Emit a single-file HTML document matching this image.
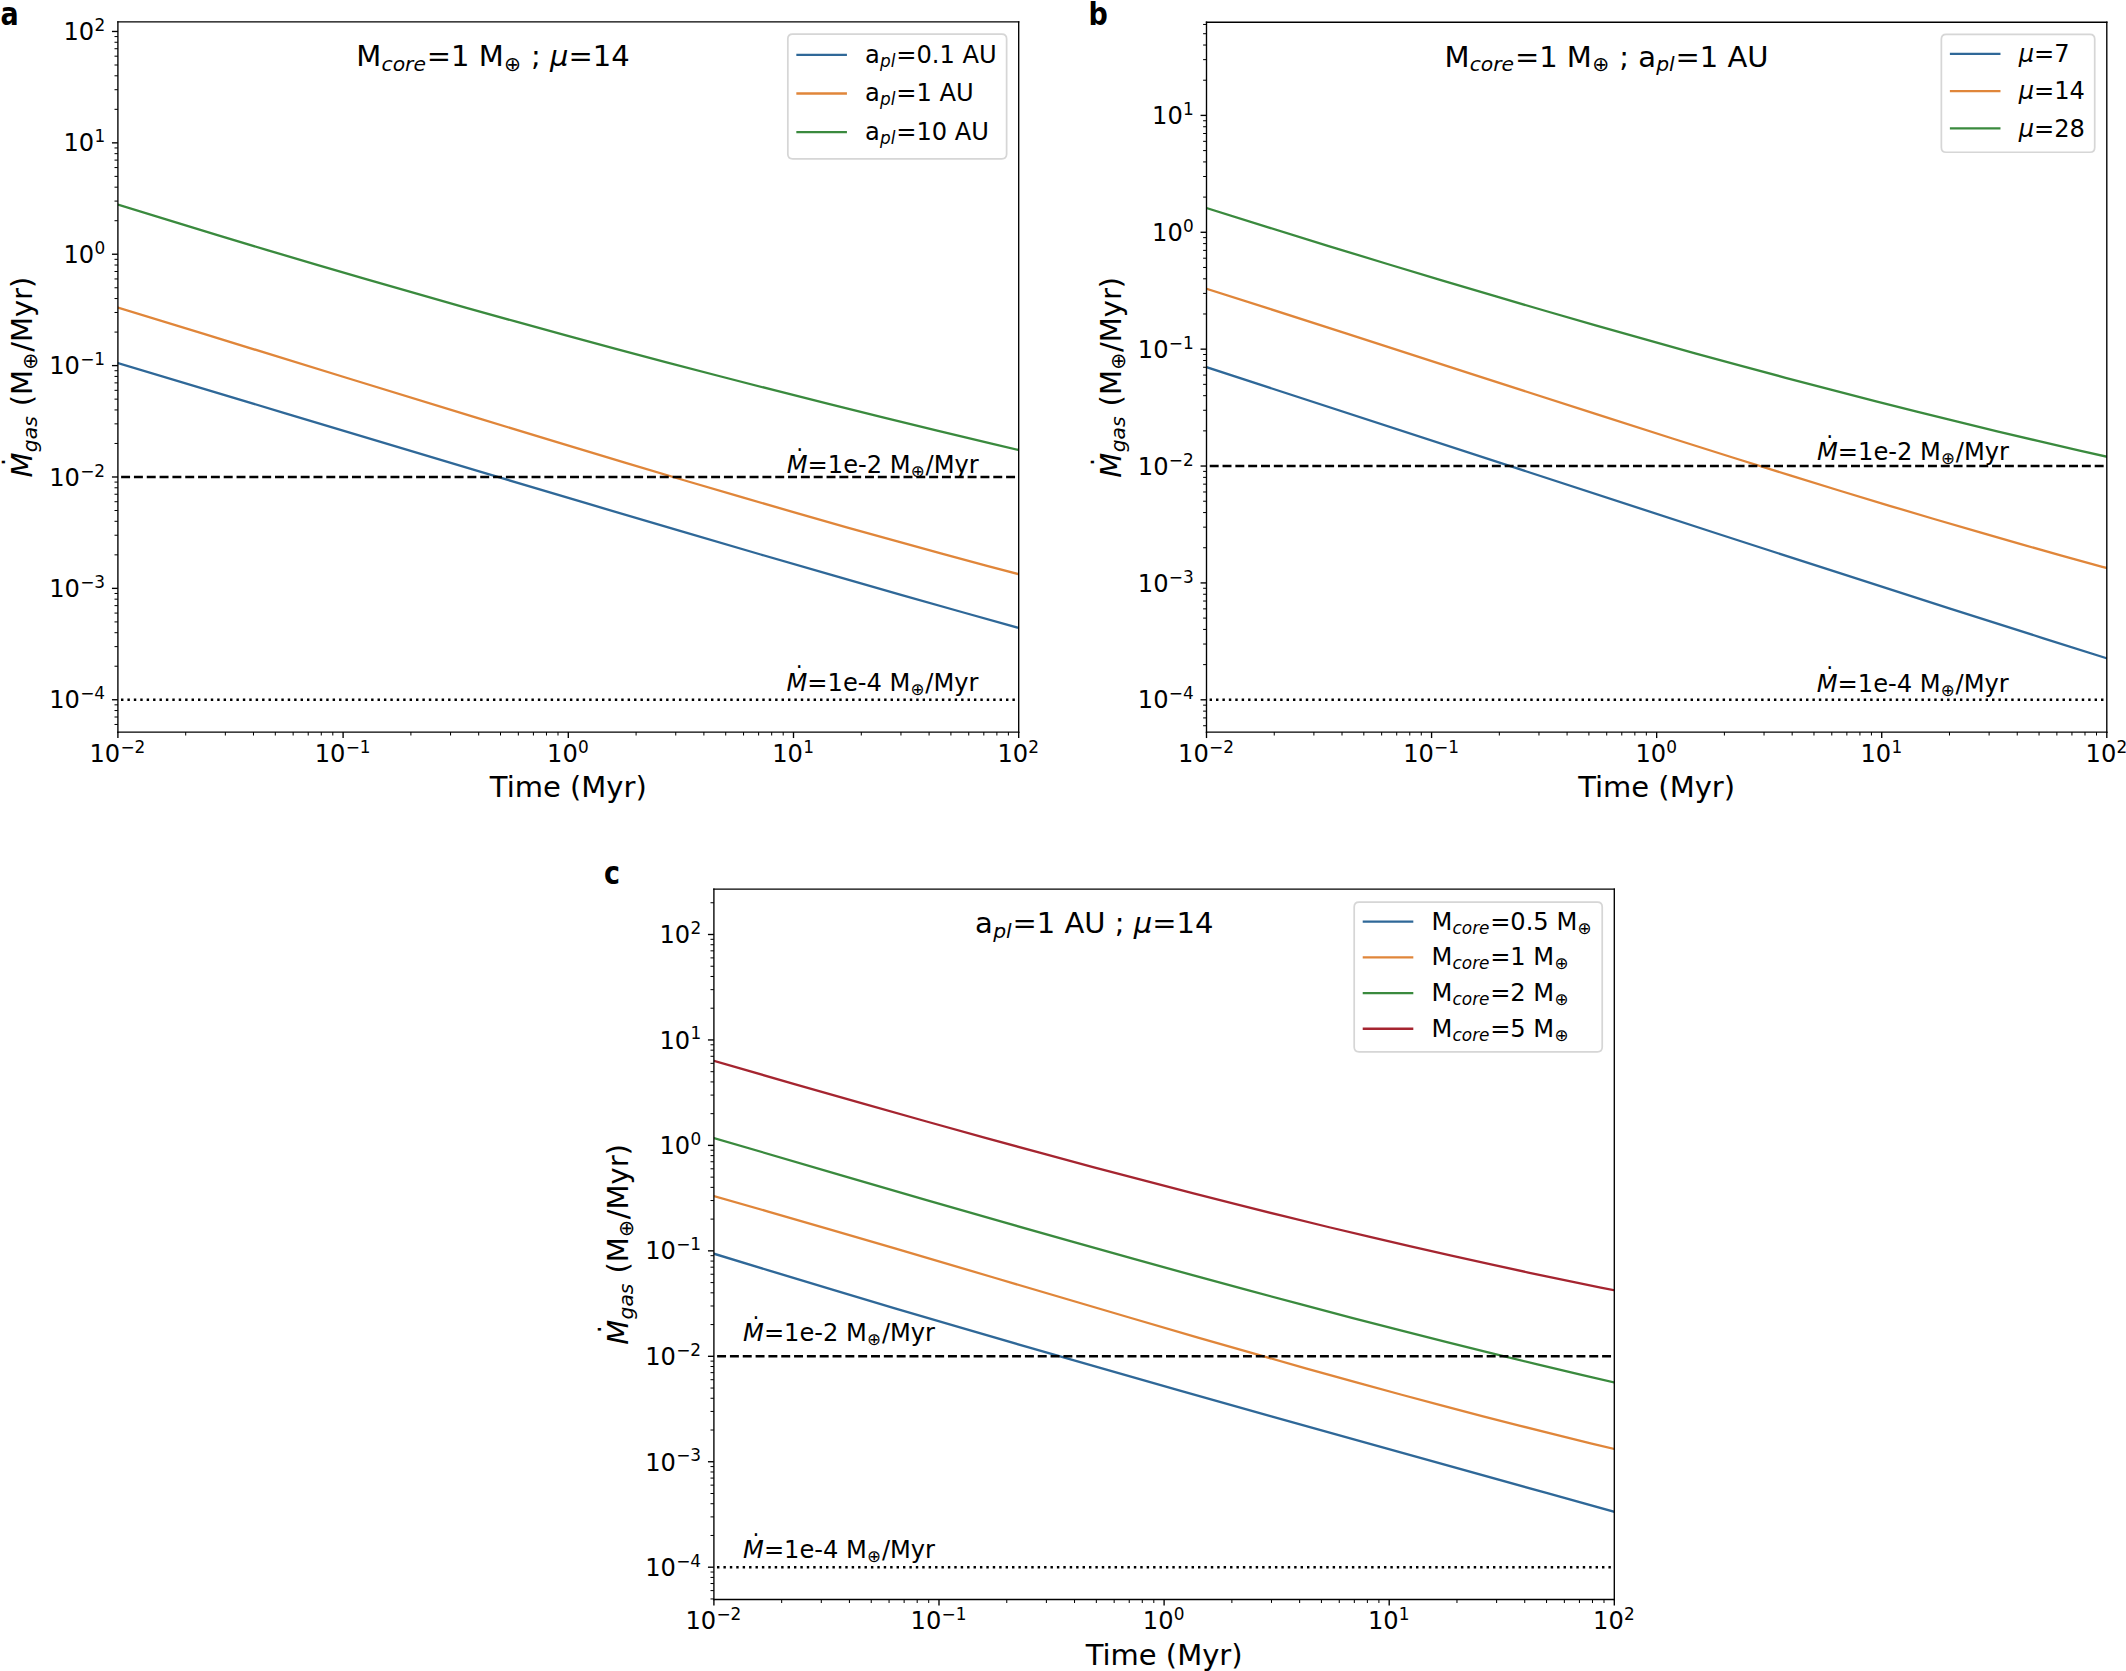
<!DOCTYPE html>
<html><head><meta charset="utf-8"><title>Figure</title>
<style>html,body{margin:0;padding:0;background:#fff;}body{width:2126px;height:1671px;overflow:hidden;}svg{display:block;}</style>
</head><body>
<svg width="2126" height="1671" viewBox="0 0 2126 1671" version="1.1">
 
 <defs>
  <style type="text/css">svg *{stroke-linejoin: round; stroke-linecap: butt}</style>
 </defs>
 <g id="figure_1">
  <g id="patch_1">
   <path d="M 0 1671 
L 2126 1671 
L 2126 0 
L 0 0 
z
" style="fill: #ffffff"/>
  </g>
  <g id="axes_1">
   <g id="patch_2">
    <path d="M 117.9 732.1 
L 1018.7 732.1 
L 1018.7 21.85 
L 117.9 21.85 
z
" style="fill: #ffffff"/>
   </g>
   <g id="matplotlib.axis_1">
    <g id="xtick_1">
     <g id="line2d_1">
      <defs>
       <path id="m1bfa19aeaf" d="M 0 0 
L 0 5.95 
" style="stroke: #000000; stroke-width: 1.36"/>
      </defs>
      <g>
       <use href="#m1bfa19aeaf" x="117.9" y="732.1" style="stroke: #000000; stroke-width: 1.36"/>
      </g>
     </g>
     <g id="text_1">
      <!-- $\mathdefault{10^{-2}}$ -->
      <g transform="translate(89.52375 762.350227)">
       <text>
        <tspan x="0" y="-0.34375" style="font-size: 24.15px; font-family: 'DejaVu Sans', sans-serif">1</tspan>
        <tspan x="15.34906" y="-0.34375" style="font-size: 24.15px; font-family: 'DejaVu Sans', sans-serif">0</tspan>
        <tspan x="30.927808" y="-9.53125" style="font-size: 16.905px; font-family: 'DejaVu Sans', sans-serif">−</tspan>
        <tspan x="45.077686" y="-9.53125" style="font-size: 16.905px; font-family: 'DejaVu Sans', sans-serif">2</tspan>
       </text>
      </g>
     </g>
    </g>
    <g id="xtick_2">
     <g id="line2d_2">
      <g>
       <use href="#m1bfa19aeaf" x="343.1" y="732.1" style="stroke: #000000; stroke-width: 1.36"/>
      </g>
     </g>
     <g id="text_2">
      <!-- $\mathdefault{10^{-1}}$ -->
      <g transform="translate(314.72375 762.350227)">
       <text>
        <tspan x="0" y="-0.5625" style="font-size: 24.15px; font-family: 'DejaVu Sans', sans-serif">1</tspan>
        <tspan x="15.34906" y="-0.5625" style="font-size: 24.15px; font-family: 'DejaVu Sans', sans-serif">0</tspan>
        <tspan x="30.927808" y="-9.75" style="font-size: 16.905px; font-family: 'DejaVu Sans', sans-serif">−</tspan>
        <tspan x="45.077686" y="-9.75" style="font-size: 16.905px; font-family: 'DejaVu Sans', sans-serif">1</tspan>
       </text>
      </g>
     </g>
    </g>
    <g id="xtick_3">
     <g id="line2d_3">
      <g>
       <use href="#m1bfa19aeaf" x="568.3" y="732.1" style="stroke: #000000; stroke-width: 1.36"/>
      </g>
     </g>
     <g id="text_3">
      <!-- $\mathdefault{10^{0}}$ -->
      <g transform="translate(547.048 762.350227)">
       <text>
        <tspan x="0" y="-0.34375" style="font-size: 24.15px; font-family: 'DejaVu Sans', sans-serif">1</tspan>
        <tspan x="15.34906" y="-0.34375" style="font-size: 24.15px; font-family: 'DejaVu Sans', sans-serif">0</tspan>
        <tspan x="30.927808" y="-9.53125" style="font-size: 16.905px; font-family: 'DejaVu Sans', sans-serif">0</tspan>
       </text>
      </g>
     </g>
    </g>
    <g id="xtick_4">
     <g id="line2d_4">
      <g>
       <use href="#m1bfa19aeaf" x="793.5" y="732.1" style="stroke: #000000; stroke-width: 1.36"/>
      </g>
     </g>
     <g id="text_4">
      <!-- $\mathdefault{10^{1}}$ -->
      <g transform="translate(772.248 762.350227)">
       <text>
        <tspan x="0" y="-0.5625" style="font-size: 24.15px; font-family: 'DejaVu Sans', sans-serif">1</tspan>
        <tspan x="15.34906" y="-0.5625" style="font-size: 24.15px; font-family: 'DejaVu Sans', sans-serif">0</tspan>
        <tspan x="30.927808" y="-9.75" style="font-size: 16.905px; font-family: 'DejaVu Sans', sans-serif">1</tspan>
       </text>
      </g>
     </g>
    </g>
    <g id="xtick_5">
     <g id="line2d_5">
      <g>
       <use href="#m1bfa19aeaf" x="1018.7" y="732.1" style="stroke: #000000; stroke-width: 1.36"/>
      </g>
     </g>
     <g id="text_5">
      <!-- $\mathdefault{10^{2}}$ -->
      <g transform="translate(997.448 762.350227)">
       <text>
        <tspan x="0" y="-0.34375" style="font-size: 24.15px; font-family: 'DejaVu Sans', sans-serif">1</tspan>
        <tspan x="15.34906" y="-0.34375" style="font-size: 24.15px; font-family: 'DejaVu Sans', sans-serif">0</tspan>
        <tspan x="30.927808" y="-9.53125" style="font-size: 16.905px; font-family: 'DejaVu Sans', sans-serif">2</tspan>
       </text>
      </g>
     </g>
    </g>
    <g id="xtick_6">
     <g id="line2d_6">
      <defs>
       <path id="m6f70f189b6" d="M 0 0 
L 0 3.4 
" style="stroke: #000000; stroke-width: 1.02"/>
      </defs>
      <g>
       <use href="#m6f70f189b6" x="185.691955" y="732.1" style="stroke: #000000; stroke-width: 1.02"/>
      </g>
     </g>
    </g>
    <g id="xtick_7">
     <g id="line2d_7">
      <g>
       <use href="#m6f70f189b6" x="225.347707" y="732.1" style="stroke: #000000; stroke-width: 1.02"/>
      </g>
     </g>
    </g>
    <g id="xtick_8">
     <g id="line2d_8">
      <g>
       <use href="#m6f70f189b6" x="253.48391" y="732.1" style="stroke: #000000; stroke-width: 1.02"/>
      </g>
     </g>
    </g>
    <g id="xtick_9">
     <g id="line2d_9">
      <g>
       <use href="#m6f70f189b6" x="275.308045" y="732.1" style="stroke: #000000; stroke-width: 1.02"/>
      </g>
     </g>
    </g>
    <g id="xtick_10">
     <g id="line2d_10">
      <g>
       <use href="#m6f70f189b6" x="293.139662" y="732.1" style="stroke: #000000; stroke-width: 1.02"/>
      </g>
     </g>
    </g>
    <g id="xtick_11">
     <g id="line2d_11">
      <g>
       <use href="#m6f70f189b6" x="308.216079" y="732.1" style="stroke: #000000; stroke-width: 1.02"/>
      </g>
     </g>
    </g>
    <g id="xtick_12">
     <g id="line2d_12">
      <g>
       <use href="#m6f70f189b6" x="321.275865" y="732.1" style="stroke: #000000; stroke-width: 1.02"/>
      </g>
     </g>
    </g>
    <g id="xtick_13">
     <g id="line2d_13">
      <g>
       <use href="#m6f70f189b6" x="332.795413" y="732.1" style="stroke: #000000; stroke-width: 1.02"/>
      </g>
     </g>
    </g>
    <g id="xtick_14">
     <g id="line2d_14">
      <g>
       <use href="#m6f70f189b6" x="410.891955" y="732.1" style="stroke: #000000; stroke-width: 1.02"/>
      </g>
     </g>
    </g>
    <g id="xtick_15">
     <g id="line2d_15">
      <g>
       <use href="#m6f70f189b6" x="450.547707" y="732.1" style="stroke: #000000; stroke-width: 1.02"/>
      </g>
     </g>
    </g>
    <g id="xtick_16">
     <g id="line2d_16">
      <g>
       <use href="#m6f70f189b6" x="478.68391" y="732.1" style="stroke: #000000; stroke-width: 1.02"/>
      </g>
     </g>
    </g>
    <g id="xtick_17">
     <g id="line2d_17">
      <g>
       <use href="#m6f70f189b6" x="500.508045" y="732.1" style="stroke: #000000; stroke-width: 1.02"/>
      </g>
     </g>
    </g>
    <g id="xtick_18">
     <g id="line2d_18">
      <g>
       <use href="#m6f70f189b6" x="518.339662" y="732.1" style="stroke: #000000; stroke-width: 1.02"/>
      </g>
     </g>
    </g>
    <g id="xtick_19">
     <g id="line2d_19">
      <g>
       <use href="#m6f70f189b6" x="533.416079" y="732.1" style="stroke: #000000; stroke-width: 1.02"/>
      </g>
     </g>
    </g>
    <g id="xtick_20">
     <g id="line2d_20">
      <g>
       <use href="#m6f70f189b6" x="546.475865" y="732.1" style="stroke: #000000; stroke-width: 1.02"/>
      </g>
     </g>
    </g>
    <g id="xtick_21">
     <g id="line2d_21">
      <g>
       <use href="#m6f70f189b6" x="557.995413" y="732.1" style="stroke: #000000; stroke-width: 1.02"/>
      </g>
     </g>
    </g>
    <g id="xtick_22">
     <g id="line2d_22">
      <g>
       <use href="#m6f70f189b6" x="636.091955" y="732.1" style="stroke: #000000; stroke-width: 1.02"/>
      </g>
     </g>
    </g>
    <g id="xtick_23">
     <g id="line2d_23">
      <g>
       <use href="#m6f70f189b6" x="675.747707" y="732.1" style="stroke: #000000; stroke-width: 1.02"/>
      </g>
     </g>
    </g>
    <g id="xtick_24">
     <g id="line2d_24">
      <g>
       <use href="#m6f70f189b6" x="703.88391" y="732.1" style="stroke: #000000; stroke-width: 1.02"/>
      </g>
     </g>
    </g>
    <g id="xtick_25">
     <g id="line2d_25">
      <g>
       <use href="#m6f70f189b6" x="725.708045" y="732.1" style="stroke: #000000; stroke-width: 1.02"/>
      </g>
     </g>
    </g>
    <g id="xtick_26">
     <g id="line2d_26">
      <g>
       <use href="#m6f70f189b6" x="743.539662" y="732.1" style="stroke: #000000; stroke-width: 1.02"/>
      </g>
     </g>
    </g>
    <g id="xtick_27">
     <g id="line2d_27">
      <g>
       <use href="#m6f70f189b6" x="758.616079" y="732.1" style="stroke: #000000; stroke-width: 1.02"/>
      </g>
     </g>
    </g>
    <g id="xtick_28">
     <g id="line2d_28">
      <g>
       <use href="#m6f70f189b6" x="771.675865" y="732.1" style="stroke: #000000; stroke-width: 1.02"/>
      </g>
     </g>
    </g>
    <g id="xtick_29">
     <g id="line2d_29">
      <g>
       <use href="#m6f70f189b6" x="783.195413" y="732.1" style="stroke: #000000; stroke-width: 1.02"/>
      </g>
     </g>
    </g>
    <g id="xtick_30">
     <g id="line2d_30">
      <g>
       <use href="#m6f70f189b6" x="861.291955" y="732.1" style="stroke: #000000; stroke-width: 1.02"/>
      </g>
     </g>
    </g>
    <g id="xtick_31">
     <g id="line2d_31">
      <g>
       <use href="#m6f70f189b6" x="900.947707" y="732.1" style="stroke: #000000; stroke-width: 1.02"/>
      </g>
     </g>
    </g>
    <g id="xtick_32">
     <g id="line2d_32">
      <g>
       <use href="#m6f70f189b6" x="929.08391" y="732.1" style="stroke: #000000; stroke-width: 1.02"/>
      </g>
     </g>
    </g>
    <g id="xtick_33">
     <g id="line2d_33">
      <g>
       <use href="#m6f70f189b6" x="950.908045" y="732.1" style="stroke: #000000; stroke-width: 1.02"/>
      </g>
     </g>
    </g>
    <g id="xtick_34">
     <g id="line2d_34">
      <g>
       <use href="#m6f70f189b6" x="968.739662" y="732.1" style="stroke: #000000; stroke-width: 1.02"/>
      </g>
     </g>
    </g>
    <g id="xtick_35">
     <g id="line2d_35">
      <g>
       <use href="#m6f70f189b6" x="983.816079" y="732.1" style="stroke: #000000; stroke-width: 1.02"/>
      </g>
     </g>
    </g>
    <g id="xtick_36">
     <g id="line2d_36">
      <g>
       <use href="#m6f70f189b6" x="996.875865" y="732.1" style="stroke: #000000; stroke-width: 1.02"/>
      </g>
     </g>
    </g>
    <g id="xtick_37">
     <g id="line2d_37">
      <g>
       <use href="#m6f70f189b6" x="1008.395413" y="732.1" style="stroke: #000000; stroke-width: 1.02"/>
      </g>
     </g>
    </g>
    <g id="text_6">
     <text style="font-size: 29px; font-family: 'DejaVu Sans', sans-serif; text-anchor: middle" x="568.3" y="797.308141" transform="rotate(-0 568.3 797.308141)">Time (Myr)</text>
    </g>
   </g>
   <g id="matplotlib.axis_2">
    <g id="ytick_1">
     <g id="line2d_38">
      <defs>
       <path id="me360a10468" d="M 0 0 
L -5.95 0 
" style="stroke: #000000; stroke-width: 1.36"/>
      </defs>
      <g>
       <use href="#me360a10468" x="117.9" y="699.75" style="stroke: #000000; stroke-width: 1.36"/>
      </g>
     </g>
     <g id="text_7">
      <!-- $\mathdefault{10^{-4}}$ -->
      <g transform="translate(49.2475 708.925113)">
       <text>
        <tspan x="0" y="-0.5625" style="font-size: 24.15px; font-family: 'DejaVu Sans', sans-serif">1</tspan>
        <tspan x="15.34906" y="-0.5625" style="font-size: 24.15px; font-family: 'DejaVu Sans', sans-serif">0</tspan>
        <tspan x="30.927808" y="-9.75" style="font-size: 16.905px; font-family: 'DejaVu Sans', sans-serif">−</tspan>
        <tspan x="45.077686" y="-9.75" style="font-size: 16.905px; font-family: 'DejaVu Sans', sans-serif">4</tspan>
       </text>
      </g>
     </g>
    </g>
    <g id="ytick_2">
     <g id="line2d_39">
      <g>
       <use href="#me360a10468" x="117.9" y="588.37" style="stroke: #000000; stroke-width: 1.36"/>
      </g>
     </g>
     <g id="text_8">
      <!-- $\mathdefault{10^{-3}}$ -->
      <g transform="translate(49.2475 597.545113)">
       <text>
        <tspan x="0" y="-0.34375" style="font-size: 24.15px; font-family: 'DejaVu Sans', sans-serif">1</tspan>
        <tspan x="15.34906" y="-0.34375" style="font-size: 24.15px; font-family: 'DejaVu Sans', sans-serif">0</tspan>
        <tspan x="30.927808" y="-9.53125" style="font-size: 16.905px; font-family: 'DejaVu Sans', sans-serif">−</tspan>
        <tspan x="45.077686" y="-9.53125" style="font-size: 16.905px; font-family: 'DejaVu Sans', sans-serif">3</tspan>
       </text>
      </g>
     </g>
    </g>
    <g id="ytick_3">
     <g id="line2d_40">
      <g>
       <use href="#me360a10468" x="117.9" y="476.99" style="stroke: #000000; stroke-width: 1.36"/>
      </g>
     </g>
     <g id="text_9">
      <!-- $\mathdefault{10^{-2}}$ -->
      <g transform="translate(49.2475 486.165113)">
       <text>
        <tspan x="0" y="-0.34375" style="font-size: 24.15px; font-family: 'DejaVu Sans', sans-serif">1</tspan>
        <tspan x="15.34906" y="-0.34375" style="font-size: 24.15px; font-family: 'DejaVu Sans', sans-serif">0</tspan>
        <tspan x="30.927808" y="-9.53125" style="font-size: 16.905px; font-family: 'DejaVu Sans', sans-serif">−</tspan>
        <tspan x="45.077686" y="-9.53125" style="font-size: 16.905px; font-family: 'DejaVu Sans', sans-serif">2</tspan>
       </text>
      </g>
     </g>
    </g>
    <g id="ytick_4">
     <g id="line2d_41">
      <g>
       <use href="#me360a10468" x="117.9" y="365.61" style="stroke: #000000; stroke-width: 1.36"/>
      </g>
     </g>
     <g id="text_10">
      <!-- $\mathdefault{10^{-1}}$ -->
      <g transform="translate(49.2475 374.785113)">
       <text>
        <tspan x="0" y="-0.5625" style="font-size: 24.15px; font-family: 'DejaVu Sans', sans-serif">1</tspan>
        <tspan x="15.34906" y="-0.5625" style="font-size: 24.15px; font-family: 'DejaVu Sans', sans-serif">0</tspan>
        <tspan x="30.927808" y="-9.75" style="font-size: 16.905px; font-family: 'DejaVu Sans', sans-serif">−</tspan>
        <tspan x="45.077686" y="-9.75" style="font-size: 16.905px; font-family: 'DejaVu Sans', sans-serif">1</tspan>
       </text>
      </g>
     </g>
    </g>
    <g id="ytick_5">
     <g id="line2d_42">
      <g>
       <use href="#me360a10468" x="117.9" y="254.23" style="stroke: #000000; stroke-width: 1.36"/>
      </g>
     </g>
     <g id="text_11">
      <!-- $\mathdefault{10^{0}}$ -->
      <g transform="translate(63.496 263.405113)">
       <text>
        <tspan x="0" y="-0.34375" style="font-size: 24.15px; font-family: 'DejaVu Sans', sans-serif">1</tspan>
        <tspan x="15.34906" y="-0.34375" style="font-size: 24.15px; font-family: 'DejaVu Sans', sans-serif">0</tspan>
        <tspan x="30.927808" y="-9.53125" style="font-size: 16.905px; font-family: 'DejaVu Sans', sans-serif">0</tspan>
       </text>
      </g>
     </g>
    </g>
    <g id="ytick_6">
     <g id="line2d_43">
      <g>
       <use href="#me360a10468" x="117.9" y="142.85" style="stroke: #000000; stroke-width: 1.36"/>
      </g>
     </g>
     <g id="text_12">
      <!-- $\mathdefault{10^{1}}$ -->
      <g transform="translate(63.496 152.025113)">
       <text>
        <tspan x="0" y="-0.5625" style="font-size: 24.15px; font-family: 'DejaVu Sans', sans-serif">1</tspan>
        <tspan x="15.34906" y="-0.5625" style="font-size: 24.15px; font-family: 'DejaVu Sans', sans-serif">0</tspan>
        <tspan x="30.927808" y="-9.75" style="font-size: 16.905px; font-family: 'DejaVu Sans', sans-serif">1</tspan>
       </text>
      </g>
     </g>
    </g>
    <g id="ytick_7">
     <g id="line2d_44">
      <g>
       <use href="#me360a10468" x="117.9" y="31.47" style="stroke: #000000; stroke-width: 1.36"/>
      </g>
     </g>
     <g id="text_13">
      <!-- $\mathdefault{10^{2}}$ -->
      <g transform="translate(63.496 40.645113)">
       <text>
        <tspan x="0" y="-0.34375" style="font-size: 24.15px; font-family: 'DejaVu Sans', sans-serif">1</tspan>
        <tspan x="15.34906" y="-0.34375" style="font-size: 24.15px; font-family: 'DejaVu Sans', sans-serif">0</tspan>
        <tspan x="30.927808" y="-9.53125" style="font-size: 16.905px; font-family: 'DejaVu Sans', sans-serif">2</tspan>
       </text>
      </g>
     </g>
    </g>
    <g id="ytick_8">
     <g id="line2d_45">
      <defs>
       <path id="md346ec357f" d="M 0 0 
L -3.4 0 
" style="stroke: #000000; stroke-width: 1.02"/>
      </defs>
      <g>
       <use href="#md346ec357f" x="117.9" y="724.459514" style="stroke: #000000; stroke-width: 1.02"/>
      </g>
     </g>
    </g>
    <g id="ytick_9">
     <g id="line2d_46">
      <g>
       <use href="#md346ec357f" x="117.9" y="717.00298" style="stroke: #000000; stroke-width: 1.02"/>
      </g>
     </g>
    </g>
    <g id="ytick_10">
     <g id="line2d_47">
      <g>
       <use href="#md346ec357f" x="117.9" y="710.543837" style="stroke: #000000; stroke-width: 1.02"/>
      </g>
     </g>
    </g>
    <g id="ytick_11">
     <g id="line2d_48">
      <g>
       <use href="#md346ec357f" x="117.9" y="704.846469" style="stroke: #000000; stroke-width: 1.02"/>
      </g>
     </g>
    </g>
    <g id="ytick_12">
     <g id="line2d_49">
      <g>
       <use href="#md346ec357f" x="117.9" y="666.221279" style="stroke: #000000; stroke-width: 1.02"/>
      </g>
     </g>
    </g>
    <g id="ytick_13">
     <g id="line2d_50">
      <g>
       <use href="#md346ec357f" x="117.9" y="646.608235" style="stroke: #000000; stroke-width: 1.02"/>
      </g>
     </g>
    </g>
    <g id="ytick_14">
     <g id="line2d_51">
      <g>
       <use href="#md346ec357f" x="117.9" y="632.692558" style="stroke: #000000; stroke-width: 1.02"/>
      </g>
     </g>
    </g>
    <g id="ytick_15">
     <g id="line2d_52">
      <g>
       <use href="#md346ec357f" x="117.9" y="621.898721" style="stroke: #000000; stroke-width: 1.02"/>
      </g>
     </g>
    </g>
    <g id="ytick_16">
     <g id="line2d_53">
      <g>
       <use href="#md346ec357f" x="117.9" y="613.079514" style="stroke: #000000; stroke-width: 1.02"/>
      </g>
     </g>
    </g>
    <g id="ytick_17">
     <g id="line2d_54">
      <g>
       <use href="#md346ec357f" x="117.9" y="605.62298" style="stroke: #000000; stroke-width: 1.02"/>
      </g>
     </g>
    </g>
    <g id="ytick_18">
     <g id="line2d_55">
      <g>
       <use href="#md346ec357f" x="117.9" y="599.163837" style="stroke: #000000; stroke-width: 1.02"/>
      </g>
     </g>
    </g>
    <g id="ytick_19">
     <g id="line2d_56">
      <g>
       <use href="#md346ec357f" x="117.9" y="593.466469" style="stroke: #000000; stroke-width: 1.02"/>
      </g>
     </g>
    </g>
    <g id="ytick_20">
     <g id="line2d_57">
      <g>
       <use href="#md346ec357f" x="117.9" y="554.841279" style="stroke: #000000; stroke-width: 1.02"/>
      </g>
     </g>
    </g>
    <g id="ytick_21">
     <g id="line2d_58">
      <g>
       <use href="#md346ec357f" x="117.9" y="535.228235" style="stroke: #000000; stroke-width: 1.02"/>
      </g>
     </g>
    </g>
    <g id="ytick_22">
     <g id="line2d_59">
      <g>
       <use href="#md346ec357f" x="117.9" y="521.312558" style="stroke: #000000; stroke-width: 1.02"/>
      </g>
     </g>
    </g>
    <g id="ytick_23">
     <g id="line2d_60">
      <g>
       <use href="#md346ec357f" x="117.9" y="510.518721" style="stroke: #000000; stroke-width: 1.02"/>
      </g>
     </g>
    </g>
    <g id="ytick_24">
     <g id="line2d_61">
      <g>
       <use href="#md346ec357f" x="117.9" y="501.699514" style="stroke: #000000; stroke-width: 1.02"/>
      </g>
     </g>
    </g>
    <g id="ytick_25">
     <g id="line2d_62">
      <g>
       <use href="#md346ec357f" x="117.9" y="494.24298" style="stroke: #000000; stroke-width: 1.02"/>
      </g>
     </g>
    </g>
    <g id="ytick_26">
     <g id="line2d_63">
      <g>
       <use href="#md346ec357f" x="117.9" y="487.783837" style="stroke: #000000; stroke-width: 1.02"/>
      </g>
     </g>
    </g>
    <g id="ytick_27">
     <g id="line2d_64">
      <g>
       <use href="#md346ec357f" x="117.9" y="482.086469" style="stroke: #000000; stroke-width: 1.02"/>
      </g>
     </g>
    </g>
    <g id="ytick_28">
     <g id="line2d_65">
      <g>
       <use href="#md346ec357f" x="117.9" y="443.461279" style="stroke: #000000; stroke-width: 1.02"/>
      </g>
     </g>
    </g>
    <g id="ytick_29">
     <g id="line2d_66">
      <g>
       <use href="#md346ec357f" x="117.9" y="423.848235" style="stroke: #000000; stroke-width: 1.02"/>
      </g>
     </g>
    </g>
    <g id="ytick_30">
     <g id="line2d_67">
      <g>
       <use href="#md346ec357f" x="117.9" y="409.932558" style="stroke: #000000; stroke-width: 1.02"/>
      </g>
     </g>
    </g>
    <g id="ytick_31">
     <g id="line2d_68">
      <g>
       <use href="#md346ec357f" x="117.9" y="399.138721" style="stroke: #000000; stroke-width: 1.02"/>
      </g>
     </g>
    </g>
    <g id="ytick_32">
     <g id="line2d_69">
      <g>
       <use href="#md346ec357f" x="117.9" y="390.319514" style="stroke: #000000; stroke-width: 1.02"/>
      </g>
     </g>
    </g>
    <g id="ytick_33">
     <g id="line2d_70">
      <g>
       <use href="#md346ec357f" x="117.9" y="382.86298" style="stroke: #000000; stroke-width: 1.02"/>
      </g>
     </g>
    </g>
    <g id="ytick_34">
     <g id="line2d_71">
      <g>
       <use href="#md346ec357f" x="117.9" y="376.403837" style="stroke: #000000; stroke-width: 1.02"/>
      </g>
     </g>
    </g>
    <g id="ytick_35">
     <g id="line2d_72">
      <g>
       <use href="#md346ec357f" x="117.9" y="370.706469" style="stroke: #000000; stroke-width: 1.02"/>
      </g>
     </g>
    </g>
    <g id="ytick_36">
     <g id="line2d_73">
      <g>
       <use href="#md346ec357f" x="117.9" y="332.081279" style="stroke: #000000; stroke-width: 1.02"/>
      </g>
     </g>
    </g>
    <g id="ytick_37">
     <g id="line2d_74">
      <g>
       <use href="#md346ec357f" x="117.9" y="312.468235" style="stroke: #000000; stroke-width: 1.02"/>
      </g>
     </g>
    </g>
    <g id="ytick_38">
     <g id="line2d_75">
      <g>
       <use href="#md346ec357f" x="117.9" y="298.552558" style="stroke: #000000; stroke-width: 1.02"/>
      </g>
     </g>
    </g>
    <g id="ytick_39">
     <g id="line2d_76">
      <g>
       <use href="#md346ec357f" x="117.9" y="287.758721" style="stroke: #000000; stroke-width: 1.02"/>
      </g>
     </g>
    </g>
    <g id="ytick_40">
     <g id="line2d_77">
      <g>
       <use href="#md346ec357f" x="117.9" y="278.939514" style="stroke: #000000; stroke-width: 1.02"/>
      </g>
     </g>
    </g>
    <g id="ytick_41">
     <g id="line2d_78">
      <g>
       <use href="#md346ec357f" x="117.9" y="271.48298" style="stroke: #000000; stroke-width: 1.02"/>
      </g>
     </g>
    </g>
    <g id="ytick_42">
     <g id="line2d_79">
      <g>
       <use href="#md346ec357f" x="117.9" y="265.023837" style="stroke: #000000; stroke-width: 1.02"/>
      </g>
     </g>
    </g>
    <g id="ytick_43">
     <g id="line2d_80">
      <g>
       <use href="#md346ec357f" x="117.9" y="259.326469" style="stroke: #000000; stroke-width: 1.02"/>
      </g>
     </g>
    </g>
    <g id="ytick_44">
     <g id="line2d_81">
      <g>
       <use href="#md346ec357f" x="117.9" y="220.701279" style="stroke: #000000; stroke-width: 1.02"/>
      </g>
     </g>
    </g>
    <g id="ytick_45">
     <g id="line2d_82">
      <g>
       <use href="#md346ec357f" x="117.9" y="201.088235" style="stroke: #000000; stroke-width: 1.02"/>
      </g>
     </g>
    </g>
    <g id="ytick_46">
     <g id="line2d_83">
      <g>
       <use href="#md346ec357f" x="117.9" y="187.172558" style="stroke: #000000; stroke-width: 1.02"/>
      </g>
     </g>
    </g>
    <g id="ytick_47">
     <g id="line2d_84">
      <g>
       <use href="#md346ec357f" x="117.9" y="176.378721" style="stroke: #000000; stroke-width: 1.02"/>
      </g>
     </g>
    </g>
    <g id="ytick_48">
     <g id="line2d_85">
      <g>
       <use href="#md346ec357f" x="117.9" y="167.559514" style="stroke: #000000; stroke-width: 1.02"/>
      </g>
     </g>
    </g>
    <g id="ytick_49">
     <g id="line2d_86">
      <g>
       <use href="#md346ec357f" x="117.9" y="160.10298" style="stroke: #000000; stroke-width: 1.02"/>
      </g>
     </g>
    </g>
    <g id="ytick_50">
     <g id="line2d_87">
      <g>
       <use href="#md346ec357f" x="117.9" y="153.643837" style="stroke: #000000; stroke-width: 1.02"/>
      </g>
     </g>
    </g>
    <g id="ytick_51">
     <g id="line2d_88">
      <g>
       <use href="#md346ec357f" x="117.9" y="147.946469" style="stroke: #000000; stroke-width: 1.02"/>
      </g>
     </g>
    </g>
    <g id="ytick_52">
     <g id="line2d_89">
      <g>
       <use href="#md346ec357f" x="117.9" y="109.321279" style="stroke: #000000; stroke-width: 1.02"/>
      </g>
     </g>
    </g>
    <g id="ytick_53">
     <g id="line2d_90">
      <g>
       <use href="#md346ec357f" x="117.9" y="89.708235" style="stroke: #000000; stroke-width: 1.02"/>
      </g>
     </g>
    </g>
    <g id="ytick_54">
     <g id="line2d_91">
      <g>
       <use href="#md346ec357f" x="117.9" y="75.792558" style="stroke: #000000; stroke-width: 1.02"/>
      </g>
     </g>
    </g>
    <g id="ytick_55">
     <g id="line2d_92">
      <g>
       <use href="#md346ec357f" x="117.9" y="64.998721" style="stroke: #000000; stroke-width: 1.02"/>
      </g>
     </g>
    </g>
    <g id="ytick_56">
     <g id="line2d_93">
      <g>
       <use href="#md346ec357f" x="117.9" y="56.179514" style="stroke: #000000; stroke-width: 1.02"/>
      </g>
     </g>
    </g>
    <g id="ytick_57">
     <g id="line2d_94">
      <g>
       <use href="#md346ec357f" x="117.9" y="48.72298" style="stroke: #000000; stroke-width: 1.02"/>
      </g>
     </g>
    </g>
    <g id="ytick_58">
     <g id="line2d_95">
      <g>
       <use href="#md346ec357f" x="117.9" y="42.263837" style="stroke: #000000; stroke-width: 1.02"/>
      </g>
     </g>
    </g>
    <g id="ytick_59">
     <g id="line2d_96">
      <g>
       <use href="#md346ec357f" x="117.9" y="36.566469" style="stroke: #000000; stroke-width: 1.02"/>
      </g>
     </g>
    </g>
    <g id="text_14">
     <!-- $\dot{M}_{gas}$ (M$_{\oplus}$/Myr) -->
     <g transform="translate(32.3575 477.46) rotate(-90)">
      <text>
       <tspan x="22.833374" y="-8.96875" style="font-size: 29px; font-family: 'DejaVu Sans', sans-serif">̇</tspan>
       <tspan x="61.993164" y="-0.4375" style="font-size: 29px; font-family: 'DejaVu Sans', sans-serif"> </tspan>
       <tspan x="71.211426" y="-0.4375" style="font-size: 29px; font-family: 'DejaVu Sans', sans-serif">(</tspan>
       <tspan x="82.525391" y="-0.4375" style="font-size: 29px; font-family: 'DejaVu Sans', sans-serif">M</tspan>
       <tspan x="125.626074" y="-0.4375" style="font-size: 29px; font-family: 'DejaVu Sans', sans-serif">/</tspan>
       <tspan x="135.396582" y="-0.4375" style="font-size: 29px; font-family: 'DejaVu Sans', sans-serif">M</tspan>
       <tspan x="160.417578" y="-0.4375" style="font-size: 29px; font-family: 'DejaVu Sans', sans-serif">y</tspan>
       <tspan x="177.579688" y="-0.4375" style="font-size: 29px; font-family: 'DejaVu Sans', sans-serif">r</tspan>
       <tspan x="189.502539" y="-0.4375" style="font-size: 29px; font-family: 'DejaVu Sans', sans-serif">)</tspan>
       <tspan x="0" y="-0.4375" style="font-style: oblique; font-size: 29px; font-family: 'DejaVu Sans', sans-serif">M</tspan>
       <tspan x="25.298535" y="4.320312" style="font-style: oblique; font-size: 20.3px; font-family: 'DejaVu Sans', sans-serif">g</tspan>
       <tspan x="38.184277" y="4.320312" style="font-style: oblique; font-size: 20.3px; font-family: 'DejaVu Sans', sans-serif">a</tspan>
       <tspan x="50.623975" y="4.320312" style="font-style: oblique; font-size: 20.3px; font-family: 'DejaVu Sans', sans-serif">s</tspan>
       <tspan x="107.823926" y="4.320312" style="font-size: 20.3px; font-family: 'DejaVu Sans', sans-serif">⊕</tspan>
      </text>
     </g>
    </g>
   </g>
   <g id="line2d_97">
    <path d="M 117.9 363.021429 
L 285.385427 413.280128 
L 480.030653 471.637953 
L 588.669849 503.970916 
L 679.202513 530.685895 
L 760.68191 554.496728 
L 833.10804 575.439109 
L 901.007538 594.852845 
L 964.380402 612.756976 
L 1018.7 627.921429 
L 1018.7 627.921429 
" clip-path="url(#pea03c62418)" style="fill: none; stroke: #2f6898; stroke-width: 2.3; stroke-linecap: square"/>
   </g>
   <g id="line2d_98">
    <path d="M 117.9 307.588571 
L 203.90603 333.898695 
L 348.758291 378.488624 
L 475.50402 417.413886 
L 556.983417 442.208881 
L 624.882915 462.649013 
L 688.255779 481.489848 
L 742.575377 497.420937 
L 796.894975 513.119505 
L 846.68794 527.280426 
L 896.480905 541.198503 
L 941.747236 553.621465 
L 987.013568 565.807915 
L 1018.7 574.188571 
L 1018.7 574.188571 
" clip-path="url(#pea03c62418)" style="fill: none; stroke: #e0863a; stroke-width: 2.3; stroke-linecap: square"/>
   </g>
   <g id="line2d_99">
    <path d="M 117.9 204.478571 
L 167.692965 219.912321 
L 217.48593 235.119317 
L 267.278894 250.10118 
L 317.071859 264.859532 
L 366.864824 279.395995 
L 416.657789 293.71219 
L 466.450754 307.809738 
L 516.243719 321.69026 
L 566.036683 335.355379 
L 615.829648 348.806714 
L 665.622613 362.045889 
L 719.942211 376.248561 
L 774.261809 390.202779 
L 828.581407 403.910647 
L 882.901005 417.37427 
L 937.220603 430.595753 
L 991.540201 443.577202 
L 1018.7 449.978571 
L 1018.7 449.978571 
" clip-path="url(#pea03c62418)" style="fill: none; stroke: #3a8a3e; stroke-width: 2.3; stroke-linecap: square"/>
   </g>
   <g id="line2d_100">
    <path d="M 117.9 476.99 
L 1018.7 476.99 
" clip-path="url(#pea03c62418)" style="fill: none; stroke-dasharray: 8.954,3.872; stroke-dashoffset: 9.62; stroke: #000000; stroke-width: 2.42"/>
   </g>
   <g id="line2d_101">
    <path d="M 117.9 699.75 
L 1018.7 699.75 
" clip-path="url(#pea03c62418)" style="fill: none; stroke-dasharray: 2.42,3.993; stroke-dashoffset: 3.3; stroke: #000000; stroke-width: 2.42"/>
   </g>
   <g id="patch_3">
    <path d="M 117.9 732.1 
L 117.9 21.85 
" style="fill: none; stroke: #000000; stroke-width: 1.36; stroke-linejoin: miter; stroke-linecap: square"/>
   </g>
   <g id="patch_4">
    <path d="M 1018.7 732.1 
L 1018.7 21.85 
" style="fill: none; stroke: #000000; stroke-width: 1.36; stroke-linejoin: miter; stroke-linecap: square"/>
   </g>
   <g id="patch_5">
    <path d="M 117.9 732.1 
L 1018.7 732.1 
" style="fill: none; stroke: #000000; stroke-width: 1.36; stroke-linejoin: miter; stroke-linecap: square"/>
   </g>
   <g id="patch_6">
    <path d="M 117.9 21.85 
L 1018.7 21.85 
" style="fill: none; stroke: #000000; stroke-width: 1.36; stroke-linejoin: miter; stroke-linecap: square"/>
   </g>
   <g id="legend_1">
    <g id="patch_7">
     <path d="M 792.656 158.799 L 1001.79 158.799 Q 1006.62 158.799 1006.62 153.969 L 1006.62 38.855 Q 1006.62 34.025 1001.79 34.025 L 792.656 34.025 Q 787.826 34.025 787.826 38.855 L 787.826 153.969 Q 787.826 158.799 792.656 158.799 z" style="fill: #ffffff; opacity: 0.8; stroke: #cccccc; stroke-width: 1.7; stroke-linejoin: miter"/>
    </g>
    <g id="line2d_102">
     <path d="M 797.486 54.782727 
L 821.636 54.782727 
L 845.786 54.782727 
" style="fill: none; stroke: #2f6898; stroke-width: 2.3; stroke-linecap: square"/>
    </g>
    <g id="text_15">
     <!-- a$_{pl}$=0.1 AU -->
     <g transform="translate(865.106 63.235227)">
      <text>
       <tspan x="0" y="-0.1875" style="font-size: 24.15px; font-family: 'DejaVu Sans', sans-serif">a</tspan>
       <tspan x="31.081061" y="-0.1875" style="font-size: 24.15px; font-family: 'DejaVu Sans', sans-serif">=</tspan>
       <tspan x="51.295172" y="-0.1875" style="font-size: 24.15px; font-family: 'DejaVu Sans', sans-serif">0</tspan>
       <tspan x="66.644232" y="-0.1875" style="font-size: 24.15px; font-family: 'DejaVu Sans', sans-serif">.</tspan>
       <tspan x="74.312872" y="-0.1875" style="font-size: 24.15px; font-family: 'DejaVu Sans', sans-serif">1</tspan>
       <tspan x="89.661932" y="-0.1875" style="font-size: 24.15px; font-family: 'DejaVu Sans', sans-serif"> </tspan>
       <tspan x="97.330573" y="-0.1875" style="font-size: 24.15px; font-family: 'DejaVu Sans', sans-serif">A</tspan>
       <tspan x="113.834052" y="-0.1875" style="font-size: 24.15px; font-family: 'DejaVu Sans', sans-serif">U</tspan>
       <tspan x="15.013318" y="3.75" style="font-style: oblique; font-size: 16.905px; font-family: 'DejaVu Sans', sans-serif">p</tspan>
       <tspan x="25.732922" y="3.75" style="font-style: oblique; font-size: 16.905px; font-family: 'DejaVu Sans', sans-serif">l</tspan>
      </text>
     </g>
    </g>
    <g id="line2d_103">
     <path d="M 797.486 93.491403 
L 821.636 93.491403 
L 845.786 93.491403 
" style="fill: none; stroke: #e0863a; stroke-width: 2.3; stroke-linecap: square"/>
    </g>
    <g id="text_16">
     <!-- a$_{pl}$=1 AU -->
     <g transform="translate(865.106 101.943903)">
      <text>
       <tspan x="0" y="-0.5" style="font-size: 24.15px; font-family: 'DejaVu Sans', sans-serif">a</tspan>
       <tspan x="31.081061" y="-0.5" style="font-size: 24.15px; font-family: 'DejaVu Sans', sans-serif">=</tspan>
       <tspan x="51.295172" y="-0.5" style="font-size: 24.15px; font-family: 'DejaVu Sans', sans-serif">1</tspan>
       <tspan x="66.644232" y="-0.5" style="font-size: 24.15px; font-family: 'DejaVu Sans', sans-serif"> </tspan>
       <tspan x="74.312872" y="-0.5" style="font-size: 24.15px; font-family: 'DejaVu Sans', sans-serif">A</tspan>
       <tspan x="90.816351" y="-0.5" style="font-size: 24.15px; font-family: 'DejaVu Sans', sans-serif">U</tspan>
       <tspan x="15.013318" y="3.4375" style="font-style: oblique; font-size: 16.905px; font-family: 'DejaVu Sans', sans-serif">p</tspan>
       <tspan x="25.732922" y="3.4375" style="font-style: oblique; font-size: 16.905px; font-family: 'DejaVu Sans', sans-serif">l</tspan>
      </text>
     </g>
    </g>
    <g id="line2d_104">
     <path d="M 797.486 132.20008 
L 821.636 132.20008 
L 845.786 132.20008 
" style="fill: none; stroke: #3a8a3e; stroke-width: 2.3; stroke-linecap: square"/>
    </g>
    <g id="text_17">
     <!-- a$_{pl}$=10 AU -->
     <g transform="translate(865.106 140.65258)">
      <text>
       <tspan x="0" y="-0.1875" style="font-size: 24.15px; font-family: 'DejaVu Sans', sans-serif">a</tspan>
       <tspan x="31.081061" y="-0.1875" style="font-size: 24.15px; font-family: 'DejaVu Sans', sans-serif">=</tspan>
       <tspan x="51.295172" y="-0.1875" style="font-size: 24.15px; font-family: 'DejaVu Sans', sans-serif">1</tspan>
       <tspan x="66.644232" y="-0.1875" style="font-size: 24.15px; font-family: 'DejaVu Sans', sans-serif">0</tspan>
       <tspan x="81.993292" y="-0.1875" style="font-size: 24.15px; font-family: 'DejaVu Sans', sans-serif"> </tspan>
       <tspan x="89.661932" y="-0.1875" style="font-size: 24.15px; font-family: 'DejaVu Sans', sans-serif">A</tspan>
       <tspan x="106.165411" y="-0.1875" style="font-size: 24.15px; font-family: 'DejaVu Sans', sans-serif">U</tspan>
       <tspan x="15.013318" y="3.75" style="font-style: oblique; font-size: 16.905px; font-family: 'DejaVu Sans', sans-serif">p</tspan>
       <tspan x="25.732922" y="3.75" style="font-style: oblique; font-size: 16.905px; font-family: 'DejaVu Sans', sans-serif">l</tspan>
      </text>
     </g>
    </g>
   </g>
  </g>
  <g id="axes_2">
   <g id="patch_8">
    <path d="M 1206.5 732.1 
L 2106.8 732.1 
L 2106.8 22.2 
L 1206.5 22.2 
z
" style="fill: #ffffff"/>
   </g>
   <g id="matplotlib.axis_3">
    <g id="xtick_38">
     <g id="line2d_105">
      <g>
       <use href="#m1bfa19aeaf" x="1206.5" y="732.1" style="stroke: #000000; stroke-width: 1.36"/>
      </g>
     </g>
     <g id="text_18">
      <!-- $\mathdefault{10^{-2}}$ -->
      <g transform="translate(1178.12375 762.350227)">
       <text>
        <tspan x="0" y="-0.34375" style="font-size: 24.15px; font-family: 'DejaVu Sans', sans-serif">1</tspan>
        <tspan x="15.34906" y="-0.34375" style="font-size: 24.15px; font-family: 'DejaVu Sans', sans-serif">0</tspan>
        <tspan x="30.927808" y="-9.53125" style="font-size: 16.905px; font-family: 'DejaVu Sans', sans-serif">−</tspan>
        <tspan x="45.077686" y="-9.53125" style="font-size: 16.905px; font-family: 'DejaVu Sans', sans-serif">2</tspan>
       </text>
      </g>
     </g>
    </g>
    <g id="xtick_39">
     <g id="line2d_106">
      <g>
       <use href="#m1bfa19aeaf" x="1431.575" y="732.1" style="stroke: #000000; stroke-width: 1.36"/>
      </g>
     </g>
     <g id="text_19">
      <!-- $\mathdefault{10^{-1}}$ -->
      <g transform="translate(1403.19875 762.350227)">
       <text>
        <tspan x="0" y="-0.5625" style="font-size: 24.15px; font-family: 'DejaVu Sans', sans-serif">1</tspan>
        <tspan x="15.34906" y="-0.5625" style="font-size: 24.15px; font-family: 'DejaVu Sans', sans-serif">0</tspan>
        <tspan x="30.927808" y="-9.75" style="font-size: 16.905px; font-family: 'DejaVu Sans', sans-serif">−</tspan>
        <tspan x="45.077686" y="-9.75" style="font-size: 16.905px; font-family: 'DejaVu Sans', sans-serif">1</tspan>
       </text>
      </g>
     </g>
    </g>
    <g id="xtick_40">
     <g id="line2d_107">
      <g>
       <use href="#m1bfa19aeaf" x="1656.65" y="732.1" style="stroke: #000000; stroke-width: 1.36"/>
      </g>
     </g>
     <g id="text_20">
      <!-- $\mathdefault{10^{0}}$ -->
      <g transform="translate(1635.398 762.350227)">
       <text>
        <tspan x="0" y="-0.34375" style="font-size: 24.15px; font-family: 'DejaVu Sans', sans-serif">1</tspan>
        <tspan x="15.34906" y="-0.34375" style="font-size: 24.15px; font-family: 'DejaVu Sans', sans-serif">0</tspan>
        <tspan x="30.927808" y="-9.53125" style="font-size: 16.905px; font-family: 'DejaVu Sans', sans-serif">0</tspan>
       </text>
      </g>
     </g>
    </g>
    <g id="xtick_41">
     <g id="line2d_108">
      <g>
       <use href="#m1bfa19aeaf" x="1881.725" y="732.1" style="stroke: #000000; stroke-width: 1.36"/>
      </g>
     </g>
     <g id="text_21">
      <!-- $\mathdefault{10^{1}}$ -->
      <g transform="translate(1860.473 762.350227)">
       <text>
        <tspan x="0" y="-0.5625" style="font-size: 24.15px; font-family: 'DejaVu Sans', sans-serif">1</tspan>
        <tspan x="15.34906" y="-0.5625" style="font-size: 24.15px; font-family: 'DejaVu Sans', sans-serif">0</tspan>
        <tspan x="30.927808" y="-9.75" style="font-size: 16.905px; font-family: 'DejaVu Sans', sans-serif">1</tspan>
       </text>
      </g>
     </g>
    </g>
    <g id="xtick_42">
     <g id="line2d_109">
      <g>
       <use href="#m1bfa19aeaf" x="2106.8" y="732.1" style="stroke: #000000; stroke-width: 1.36"/>
      </g>
     </g>
     <g id="text_22">
      <!-- $\mathdefault{10^{2}}$ -->
      <g transform="translate(2085.548 762.350227)">
       <text>
        <tspan x="0" y="-0.34375" style="font-size: 24.15px; font-family: 'DejaVu Sans', sans-serif">1</tspan>
        <tspan x="15.34906" y="-0.34375" style="font-size: 24.15px; font-family: 'DejaVu Sans', sans-serif">0</tspan>
        <tspan x="30.927808" y="-9.53125" style="font-size: 16.905px; font-family: 'DejaVu Sans', sans-serif">2</tspan>
       </text>
      </g>
     </g>
    </g>
    <g id="xtick_43">
     <g id="line2d_110">
      <g>
       <use href="#m6f70f189b6" x="1274.254326" y="732.1" style="stroke: #000000; stroke-width: 1.02"/>
      </g>
     </g>
    </g>
    <g id="xtick_44">
     <g id="line2d_111">
      <g>
       <use href="#m6f70f189b6" x="1313.888066" y="732.1" style="stroke: #000000; stroke-width: 1.02"/>
      </g>
     </g>
    </g>
    <g id="xtick_45">
     <g id="line2d_112">
      <g>
       <use href="#m6f70f189b6" x="1342.008653" y="732.1" style="stroke: #000000; stroke-width: 1.02"/>
      </g>
     </g>
    </g>
    <g id="xtick_46">
     <g id="line2d_113">
      <g>
       <use href="#m6f70f189b6" x="1363.820674" y="732.1" style="stroke: #000000; stroke-width: 1.02"/>
      </g>
     </g>
    </g>
    <g id="xtick_47">
     <g id="line2d_114">
      <g>
       <use href="#m6f70f189b6" x="1381.642393" y="732.1" style="stroke: #000000; stroke-width: 1.02"/>
      </g>
     </g>
    </g>
    <g id="xtick_48">
     <g id="line2d_115">
      <g>
       <use href="#m6f70f189b6" x="1396.710441" y="732.1" style="stroke: #000000; stroke-width: 1.02"/>
      </g>
     </g>
    </g>
    <g id="xtick_49">
     <g id="line2d_116">
      <g>
       <use href="#m6f70f189b6" x="1409.762979" y="732.1" style="stroke: #000000; stroke-width: 1.02"/>
      </g>
     </g>
    </g>
    <g id="xtick_50">
     <g id="line2d_117">
      <g>
       <use href="#m6f70f189b6" x="1421.276133" y="732.1" style="stroke: #000000; stroke-width: 1.02"/>
      </g>
     </g>
    </g>
    <g id="xtick_51">
     <g id="line2d_118">
      <g>
       <use href="#m6f70f189b6" x="1499.329326" y="732.1" style="stroke: #000000; stroke-width: 1.02"/>
      </g>
     </g>
    </g>
    <g id="xtick_52">
     <g id="line2d_119">
      <g>
       <use href="#m6f70f189b6" x="1538.963066" y="732.1" style="stroke: #000000; stroke-width: 1.02"/>
      </g>
     </g>
    </g>
    <g id="xtick_53">
     <g id="line2d_120">
      <g>
       <use href="#m6f70f189b6" x="1567.083653" y="732.1" style="stroke: #000000; stroke-width: 1.02"/>
      </g>
     </g>
    </g>
    <g id="xtick_54">
     <g id="line2d_121">
      <g>
       <use href="#m6f70f189b6" x="1588.895674" y="732.1" style="stroke: #000000; stroke-width: 1.02"/>
      </g>
     </g>
    </g>
    <g id="xtick_55">
     <g id="line2d_122">
      <g>
       <use href="#m6f70f189b6" x="1606.717393" y="732.1" style="stroke: #000000; stroke-width: 1.02"/>
      </g>
     </g>
    </g>
    <g id="xtick_56">
     <g id="line2d_123">
      <g>
       <use href="#m6f70f189b6" x="1621.785441" y="732.1" style="stroke: #000000; stroke-width: 1.02"/>
      </g>
     </g>
    </g>
    <g id="xtick_57">
     <g id="line2d_124">
      <g>
       <use href="#m6f70f189b6" x="1634.837979" y="732.1" style="stroke: #000000; stroke-width: 1.02"/>
      </g>
     </g>
    </g>
    <g id="xtick_58">
     <g id="line2d_125">
      <g>
       <use href="#m6f70f189b6" x="1646.351133" y="732.1" style="stroke: #000000; stroke-width: 1.02"/>
      </g>
     </g>
    </g>
    <g id="xtick_59">
     <g id="line2d_126">
      <g>
       <use href="#m6f70f189b6" x="1724.404326" y="732.1" style="stroke: #000000; stroke-width: 1.02"/>
      </g>
     </g>
    </g>
    <g id="xtick_60">
     <g id="line2d_127">
      <g>
       <use href="#m6f70f189b6" x="1764.038066" y="732.1" style="stroke: #000000; stroke-width: 1.02"/>
      </g>
     </g>
    </g>
    <g id="xtick_61">
     <g id="line2d_128">
      <g>
       <use href="#m6f70f189b6" x="1792.158653" y="732.1" style="stroke: #000000; stroke-width: 1.02"/>
      </g>
     </g>
    </g>
    <g id="xtick_62">
     <g id="line2d_129">
      <g>
       <use href="#m6f70f189b6" x="1813.970674" y="732.1" style="stroke: #000000; stroke-width: 1.02"/>
      </g>
     </g>
    </g>
    <g id="xtick_63">
     <g id="line2d_130">
      <g>
       <use href="#m6f70f189b6" x="1831.792393" y="732.1" style="stroke: #000000; stroke-width: 1.02"/>
      </g>
     </g>
    </g>
    <g id="xtick_64">
     <g id="line2d_131">
      <g>
       <use href="#m6f70f189b6" x="1846.860441" y="732.1" style="stroke: #000000; stroke-width: 1.02"/>
      </g>
     </g>
    </g>
    <g id="xtick_65">
     <g id="line2d_132">
      <g>
       <use href="#m6f70f189b6" x="1859.912979" y="732.1" style="stroke: #000000; stroke-width: 1.02"/>
      </g>
     </g>
    </g>
    <g id="xtick_66">
     <g id="line2d_133">
      <g>
       <use href="#m6f70f189b6" x="1871.426133" y="732.1" style="stroke: #000000; stroke-width: 1.02"/>
      </g>
     </g>
    </g>
    <g id="xtick_67">
     <g id="line2d_134">
      <g>
       <use href="#m6f70f189b6" x="1949.479326" y="732.1" style="stroke: #000000; stroke-width: 1.02"/>
      </g>
     </g>
    </g>
    <g id="xtick_68">
     <g id="line2d_135">
      <g>
       <use href="#m6f70f189b6" x="1989.113066" y="732.1" style="stroke: #000000; stroke-width: 1.02"/>
      </g>
     </g>
    </g>
    <g id="xtick_69">
     <g id="line2d_136">
      <g>
       <use href="#m6f70f189b6" x="2017.233653" y="732.1" style="stroke: #000000; stroke-width: 1.02"/>
      </g>
     </g>
    </g>
    <g id="xtick_70">
     <g id="line2d_137">
      <g>
       <use href="#m6f70f189b6" x="2039.045674" y="732.1" style="stroke: #000000; stroke-width: 1.02"/>
      </g>
     </g>
    </g>
    <g id="xtick_71">
     <g id="line2d_138">
      <g>
       <use href="#m6f70f189b6" x="2056.867393" y="732.1" style="stroke: #000000; stroke-width: 1.02"/>
      </g>
     </g>
    </g>
    <g id="xtick_72">
     <g id="line2d_139">
      <g>
       <use href="#m6f70f189b6" x="2071.935441" y="732.1" style="stroke: #000000; stroke-width: 1.02"/>
      </g>
     </g>
    </g>
    <g id="xtick_73">
     <g id="line2d_140">
      <g>
       <use href="#m6f70f189b6" x="2084.987979" y="732.1" style="stroke: #000000; stroke-width: 1.02"/>
      </g>
     </g>
    </g>
    <g id="xtick_74">
     <g id="line2d_141">
      <g>
       <use href="#m6f70f189b6" x="2096.501133" y="732.1" style="stroke: #000000; stroke-width: 1.02"/>
      </g>
     </g>
    </g>
    <g id="text_23">
     <text style="font-size: 29px; font-family: 'DejaVu Sans', sans-serif; text-anchor: middle" x="1656.65" y="797.308141" transform="rotate(-0 1656.65 797.308141)">Time (Myr)</text>
    </g>
   </g>
   <g id="matplotlib.axis_4">
    <g id="ytick_60">
     <g id="line2d_142">
      <g>
       <use href="#me360a10468" x="1206.5" y="699.8" style="stroke: #000000; stroke-width: 1.36"/>
      </g>
     </g>
     <g id="text_24">
      <!-- $\mathdefault{10^{-4}}$ -->
      <g transform="translate(1137.8475 708.975113)">
       <text>
        <tspan x="0" y="-0.5625" style="font-size: 24.15px; font-family: 'DejaVu Sans', sans-serif">1</tspan>
        <tspan x="15.34906" y="-0.5625" style="font-size: 24.15px; font-family: 'DejaVu Sans', sans-serif">0</tspan>
        <tspan x="30.927808" y="-9.75" style="font-size: 16.905px; font-family: 'DejaVu Sans', sans-serif">−</tspan>
        <tspan x="45.077686" y="-9.75" style="font-size: 16.905px; font-family: 'DejaVu Sans', sans-serif">4</tspan>
       </text>
      </g>
     </g>
    </g>
    <g id="ytick_61">
     <g id="line2d_143">
      <g>
       <use href="#me360a10468" x="1206.5" y="582.92" style="stroke: #000000; stroke-width: 1.36"/>
      </g>
     </g>
     <g id="text_25">
      <!-- $\mathdefault{10^{-3}}$ -->
      <g transform="translate(1137.8475 592.095113)">
       <text>
        <tspan x="0" y="-0.34375" style="font-size: 24.15px; font-family: 'DejaVu Sans', sans-serif">1</tspan>
        <tspan x="15.34906" y="-0.34375" style="font-size: 24.15px; font-family: 'DejaVu Sans', sans-serif">0</tspan>
        <tspan x="30.927808" y="-9.53125" style="font-size: 16.905px; font-family: 'DejaVu Sans', sans-serif">−</tspan>
        <tspan x="45.077686" y="-9.53125" style="font-size: 16.905px; font-family: 'DejaVu Sans', sans-serif">3</tspan>
       </text>
      </g>
     </g>
    </g>
    <g id="ytick_62">
     <g id="line2d_144">
      <g>
       <use href="#me360a10468" x="1206.5" y="466.04" style="stroke: #000000; stroke-width: 1.36"/>
      </g>
     </g>
     <g id="text_26">
      <!-- $\mathdefault{10^{-2}}$ -->
      <g transform="translate(1137.8475 475.215113)">
       <text>
        <tspan x="0" y="-0.34375" style="font-size: 24.15px; font-family: 'DejaVu Sans', sans-serif">1</tspan>
        <tspan x="15.34906" y="-0.34375" style="font-size: 24.15px; font-family: 'DejaVu Sans', sans-serif">0</tspan>
        <tspan x="30.927808" y="-9.53125" style="font-size: 16.905px; font-family: 'DejaVu Sans', sans-serif">−</tspan>
        <tspan x="45.077686" y="-9.53125" style="font-size: 16.905px; font-family: 'DejaVu Sans', sans-serif">2</tspan>
       </text>
      </g>
     </g>
    </g>
    <g id="ytick_63">
     <g id="line2d_145">
      <g>
       <use href="#me360a10468" x="1206.5" y="349.16" style="stroke: #000000; stroke-width: 1.36"/>
      </g>
     </g>
     <g id="text_27">
      <!-- $\mathdefault{10^{-1}}$ -->
      <g transform="translate(1137.8475 358.335113)">
       <text>
        <tspan x="0" y="-0.5625" style="font-size: 24.15px; font-family: 'DejaVu Sans', sans-serif">1</tspan>
        <tspan x="15.34906" y="-0.5625" style="font-size: 24.15px; font-family: 'DejaVu Sans', sans-serif">0</tspan>
        <tspan x="30.927808" y="-9.75" style="font-size: 16.905px; font-family: 'DejaVu Sans', sans-serif">−</tspan>
        <tspan x="45.077686" y="-9.75" style="font-size: 16.905px; font-family: 'DejaVu Sans', sans-serif">1</tspan>
       </text>
      </g>
     </g>
    </g>
    <g id="ytick_64">
     <g id="line2d_146">
      <g>
       <use href="#me360a10468" x="1206.5" y="232.28" style="stroke: #000000; stroke-width: 1.36"/>
      </g>
     </g>
     <g id="text_28">
      <!-- $\mathdefault{10^{0}}$ -->
      <g transform="translate(1152.096 241.455113)">
       <text>
        <tspan x="0" y="-0.34375" style="font-size: 24.15px; font-family: 'DejaVu Sans', sans-serif">1</tspan>
        <tspan x="15.34906" y="-0.34375" style="font-size: 24.15px; font-family: 'DejaVu Sans', sans-serif">0</tspan>
        <tspan x="30.927808" y="-9.53125" style="font-size: 16.905px; font-family: 'DejaVu Sans', sans-serif">0</tspan>
       </text>
      </g>
     </g>
    </g>
    <g id="ytick_65">
     <g id="line2d_147">
      <g>
       <use href="#me360a10468" x="1206.5" y="115.4" style="stroke: #000000; stroke-width: 1.36"/>
      </g>
     </g>
     <g id="text_29">
      <!-- $\mathdefault{10^{1}}$ -->
      <g transform="translate(1152.096 124.575113)">
       <text>
        <tspan x="0" y="-0.5625" style="font-size: 24.15px; font-family: 'DejaVu Sans', sans-serif">1</tspan>
        <tspan x="15.34906" y="-0.5625" style="font-size: 24.15px; font-family: 'DejaVu Sans', sans-serif">0</tspan>
        <tspan x="30.927808" y="-9.75" style="font-size: 16.905px; font-family: 'DejaVu Sans', sans-serif">1</tspan>
       </text>
      </g>
     </g>
    </g>
    <g id="ytick_66">
     <g id="line2d_148">
      <g>
       <use href="#md346ec357f" x="1206.5" y="725.729682" style="stroke: #000000; stroke-width: 1.02"/>
      </g>
     </g>
    </g>
    <g id="ytick_67">
     <g id="line2d_149">
      <g>
       <use href="#md346ec357f" x="1206.5" y="717.904941" style="stroke: #000000; stroke-width: 1.02"/>
      </g>
     </g>
    </g>
    <g id="ytick_68">
     <g id="line2d_150">
      <g>
       <use href="#md346ec357f" x="1206.5" y="711.126842" style="stroke: #000000; stroke-width: 1.02"/>
      </g>
     </g>
    </g>
    <g id="ytick_69">
     <g id="line2d_151">
      <g>
       <use href="#md346ec357f" x="1206.5" y="705.148135" style="stroke: #000000; stroke-width: 1.02"/>
      </g>
     </g>
    </g>
    <g id="ytick_70">
     <g id="line2d_152">
      <g>
       <use href="#md346ec357f" x="1206.5" y="664.615614" style="stroke: #000000; stroke-width: 1.02"/>
      </g>
     </g>
    </g>
    <g id="ytick_71">
     <g id="line2d_153">
      <g>
       <use href="#md346ec357f" x="1206.5" y="644.034068" style="stroke: #000000; stroke-width: 1.02"/>
      </g>
     </g>
    </g>
    <g id="ytick_72">
     <g id="line2d_154">
      <g>
       <use href="#md346ec357f" x="1206.5" y="629.431228" style="stroke: #000000; stroke-width: 1.02"/>
      </g>
     </g>
    </g>
    <g id="ytick_73">
     <g id="line2d_155">
      <g>
       <use href="#md346ec357f" x="1206.5" y="618.104386" style="stroke: #000000; stroke-width: 1.02"/>
      </g>
     </g>
    </g>
    <g id="ytick_74">
     <g id="line2d_156">
      <g>
       <use href="#md346ec357f" x="1206.5" y="608.849682" style="stroke: #000000; stroke-width: 1.02"/>
      </g>
     </g>
    </g>
    <g id="ytick_75">
     <g id="line2d_157">
      <g>
       <use href="#md346ec357f" x="1206.5" y="601.024941" style="stroke: #000000; stroke-width: 1.02"/>
      </g>
     </g>
    </g>
    <g id="ytick_76">
     <g id="line2d_158">
      <g>
       <use href="#md346ec357f" x="1206.5" y="594.246842" style="stroke: #000000; stroke-width: 1.02"/>
      </g>
     </g>
    </g>
    <g id="ytick_77">
     <g id="line2d_159">
      <g>
       <use href="#md346ec357f" x="1206.5" y="588.268135" style="stroke: #000000; stroke-width: 1.02"/>
      </g>
     </g>
    </g>
    <g id="ytick_78">
     <g id="line2d_160">
      <g>
       <use href="#md346ec357f" x="1206.5" y="547.735614" style="stroke: #000000; stroke-width: 1.02"/>
      </g>
     </g>
    </g>
    <g id="ytick_79">
     <g id="line2d_161">
      <g>
       <use href="#md346ec357f" x="1206.5" y="527.154068" style="stroke: #000000; stroke-width: 1.02"/>
      </g>
     </g>
    </g>
    <g id="ytick_80">
     <g id="line2d_162">
      <g>
       <use href="#md346ec357f" x="1206.5" y="512.551228" style="stroke: #000000; stroke-width: 1.02"/>
      </g>
     </g>
    </g>
    <g id="ytick_81">
     <g id="line2d_163">
      <g>
       <use href="#md346ec357f" x="1206.5" y="501.224386" style="stroke: #000000; stroke-width: 1.02"/>
      </g>
     </g>
    </g>
    <g id="ytick_82">
     <g id="line2d_164">
      <g>
       <use href="#md346ec357f" x="1206.5" y="491.969682" style="stroke: #000000; stroke-width: 1.02"/>
      </g>
     </g>
    </g>
    <g id="ytick_83">
     <g id="line2d_165">
      <g>
       <use href="#md346ec357f" x="1206.5" y="484.144941" style="stroke: #000000; stroke-width: 1.02"/>
      </g>
     </g>
    </g>
    <g id="ytick_84">
     <g id="line2d_166">
      <g>
       <use href="#md346ec357f" x="1206.5" y="477.366842" style="stroke: #000000; stroke-width: 1.02"/>
      </g>
     </g>
    </g>
    <g id="ytick_85">
     <g id="line2d_167">
      <g>
       <use href="#md346ec357f" x="1206.5" y="471.388135" style="stroke: #000000; stroke-width: 1.02"/>
      </g>
     </g>
    </g>
    <g id="ytick_86">
     <g id="line2d_168">
      <g>
       <use href="#md346ec357f" x="1206.5" y="430.855614" style="stroke: #000000; stroke-width: 1.02"/>
      </g>
     </g>
    </g>
    <g id="ytick_87">
     <g id="line2d_169">
      <g>
       <use href="#md346ec357f" x="1206.5" y="410.274068" style="stroke: #000000; stroke-width: 1.02"/>
      </g>
     </g>
    </g>
    <g id="ytick_88">
     <g id="line2d_170">
      <g>
       <use href="#md346ec357f" x="1206.5" y="395.671228" style="stroke: #000000; stroke-width: 1.02"/>
      </g>
     </g>
    </g>
    <g id="ytick_89">
     <g id="line2d_171">
      <g>
       <use href="#md346ec357f" x="1206.5" y="384.344386" style="stroke: #000000; stroke-width: 1.02"/>
      </g>
     </g>
    </g>
    <g id="ytick_90">
     <g id="line2d_172">
      <g>
       <use href="#md346ec357f" x="1206.5" y="375.089682" style="stroke: #000000; stroke-width: 1.02"/>
      </g>
     </g>
    </g>
    <g id="ytick_91">
     <g id="line2d_173">
      <g>
       <use href="#md346ec357f" x="1206.5" y="367.264941" style="stroke: #000000; stroke-width: 1.02"/>
      </g>
     </g>
    </g>
    <g id="ytick_92">
     <g id="line2d_174">
      <g>
       <use href="#md346ec357f" x="1206.5" y="360.486842" style="stroke: #000000; stroke-width: 1.02"/>
      </g>
     </g>
    </g>
    <g id="ytick_93">
     <g id="line2d_175">
      <g>
       <use href="#md346ec357f" x="1206.5" y="354.508135" style="stroke: #000000; stroke-width: 1.02"/>
      </g>
     </g>
    </g>
    <g id="ytick_94">
     <g id="line2d_176">
      <g>
       <use href="#md346ec357f" x="1206.5" y="313.975614" style="stroke: #000000; stroke-width: 1.02"/>
      </g>
     </g>
    </g>
    <g id="ytick_95">
     <g id="line2d_177">
      <g>
       <use href="#md346ec357f" x="1206.5" y="293.394068" style="stroke: #000000; stroke-width: 1.02"/>
      </g>
     </g>
    </g>
    <g id="ytick_96">
     <g id="line2d_178">
      <g>
       <use href="#md346ec357f" x="1206.5" y="278.791228" style="stroke: #000000; stroke-width: 1.02"/>
      </g>
     </g>
    </g>
    <g id="ytick_97">
     <g id="line2d_179">
      <g>
       <use href="#md346ec357f" x="1206.5" y="267.464386" style="stroke: #000000; stroke-width: 1.02"/>
      </g>
     </g>
    </g>
    <g id="ytick_98">
     <g id="line2d_180">
      <g>
       <use href="#md346ec357f" x="1206.5" y="258.209682" style="stroke: #000000; stroke-width: 1.02"/>
      </g>
     </g>
    </g>
    <g id="ytick_99">
     <g id="line2d_181">
      <g>
       <use href="#md346ec357f" x="1206.5" y="250.384941" style="stroke: #000000; stroke-width: 1.02"/>
      </g>
     </g>
    </g>
    <g id="ytick_100">
     <g id="line2d_182">
      <g>
       <use href="#md346ec357f" x="1206.5" y="243.606842" style="stroke: #000000; stroke-width: 1.02"/>
      </g>
     </g>
    </g>
    <g id="ytick_101">
     <g id="line2d_183">
      <g>
       <use href="#md346ec357f" x="1206.5" y="237.628135" style="stroke: #000000; stroke-width: 1.02"/>
      </g>
     </g>
    </g>
    <g id="ytick_102">
     <g id="line2d_184">
      <g>
       <use href="#md346ec357f" x="1206.5" y="197.095614" style="stroke: #000000; stroke-width: 1.02"/>
      </g>
     </g>
    </g>
    <g id="ytick_103">
     <g id="line2d_185">
      <g>
       <use href="#md346ec357f" x="1206.5" y="176.514068" style="stroke: #000000; stroke-width: 1.02"/>
      </g>
     </g>
    </g>
    <g id="ytick_104">
     <g id="line2d_186">
      <g>
       <use href="#md346ec357f" x="1206.5" y="161.911228" style="stroke: #000000; stroke-width: 1.02"/>
      </g>
     </g>
    </g>
    <g id="ytick_105">
     <g id="line2d_187">
      <g>
       <use href="#md346ec357f" x="1206.5" y="150.584386" style="stroke: #000000; stroke-width: 1.02"/>
      </g>
     </g>
    </g>
    <g id="ytick_106">
     <g id="line2d_188">
      <g>
       <use href="#md346ec357f" x="1206.5" y="141.329682" style="stroke: #000000; stroke-width: 1.02"/>
      </g>
     </g>
    </g>
    <g id="ytick_107">
     <g id="line2d_189">
      <g>
       <use href="#md346ec357f" x="1206.5" y="133.504941" style="stroke: #000000; stroke-width: 1.02"/>
      </g>
     </g>
    </g>
    <g id="ytick_108">
     <g id="line2d_190">
      <g>
       <use href="#md346ec357f" x="1206.5" y="126.726842" style="stroke: #000000; stroke-width: 1.02"/>
      </g>
     </g>
    </g>
    <g id="ytick_109">
     <g id="line2d_191">
      <g>
       <use href="#md346ec357f" x="1206.5" y="120.748135" style="stroke: #000000; stroke-width: 1.02"/>
      </g>
     </g>
    </g>
    <g id="ytick_110">
     <g id="line2d_192">
      <g>
       <use href="#md346ec357f" x="1206.5" y="80.215614" style="stroke: #000000; stroke-width: 1.02"/>
      </g>
     </g>
    </g>
    <g id="ytick_111">
     <g id="line2d_193">
      <g>
       <use href="#md346ec357f" x="1206.5" y="59.634068" style="stroke: #000000; stroke-width: 1.02"/>
      </g>
     </g>
    </g>
    <g id="ytick_112">
     <g id="line2d_194">
      <g>
       <use href="#md346ec357f" x="1206.5" y="45.031228" style="stroke: #000000; stroke-width: 1.02"/>
      </g>
     </g>
    </g>
    <g id="ytick_113">
     <g id="line2d_195">
      <g>
       <use href="#md346ec357f" x="1206.5" y="33.704386" style="stroke: #000000; stroke-width: 1.02"/>
      </g>
     </g>
    </g>
    <g id="ytick_114">
     <g id="line2d_196">
      <g>
       <use href="#md346ec357f" x="1206.5" y="24.449682" style="stroke: #000000; stroke-width: 1.02"/>
      </g>
     </g>
    </g>
    <g id="text_30">
     <!-- $\dot{M}_{gas}$ (M$_{\oplus}$/Myr) -->
     <g transform="translate(1120.9575 477.635) rotate(-90)">
      <text>
       <tspan x="22.833374" y="-8.96875" style="font-size: 29px; font-family: 'DejaVu Sans', sans-serif">̇</tspan>
       <tspan x="61.993164" y="-0.4375" style="font-size: 29px; font-family: 'DejaVu Sans', sans-serif"> </tspan>
       <tspan x="71.211426" y="-0.4375" style="font-size: 29px; font-family: 'DejaVu Sans', sans-serif">(</tspan>
       <tspan x="82.525391" y="-0.4375" style="font-size: 29px; font-family: 'DejaVu Sans', sans-serif">M</tspan>
       <tspan x="125.626074" y="-0.4375" style="font-size: 29px; font-family: 'DejaVu Sans', sans-serif">/</tspan>
       <tspan x="135.396582" y="-0.4375" style="font-size: 29px; font-family: 'DejaVu Sans', sans-serif">M</tspan>
       <tspan x="160.417578" y="-0.4375" style="font-size: 29px; font-family: 'DejaVu Sans', sans-serif">y</tspan>
       <tspan x="177.579688" y="-0.4375" style="font-size: 29px; font-family: 'DejaVu Sans', sans-serif">r</tspan>
       <tspan x="189.502539" y="-0.4375" style="font-size: 29px; font-family: 'DejaVu Sans', sans-serif">)</tspan>
       <tspan x="0" y="-0.4375" style="font-style: oblique; font-size: 29px; font-family: 'DejaVu Sans', sans-serif">M</tspan>
       <tspan x="25.298535" y="4.320312" style="font-style: oblique; font-size: 20.3px; font-family: 'DejaVu Sans', sans-serif">g</tspan>
       <tspan x="38.184277" y="4.320312" style="font-style: oblique; font-size: 20.3px; font-family: 'DejaVu Sans', sans-serif">a</tspan>
       <tspan x="50.623975" y="4.320312" style="font-style: oblique; font-size: 20.3px; font-family: 'DejaVu Sans', sans-serif">s</tspan>
       <tspan x="107.823926" y="4.320312" style="font-size: 20.3px; font-family: 'DejaVu Sans', sans-serif">⊕</tspan>
      </text>
     </g>
    </g>
   </g>
   <g id="line2d_197">
    <path d="M 1206.5 367.21 
L 1717.725628 533.765808 
L 1839.876884 573.208916 
L 1948.455779 608.032751 
L 2043.462312 638.279415 
L 2106.8 658.31 
L 2106.8 658.31 
" clip-path="url(#p8563e7f25e)" style="fill: none; stroke: #2f6898; stroke-width: 2.3; stroke-linecap: square"/>
   </g>
   <g id="line2d_198">
    <path d="M 1206.5 288.797143 
L 1269.837688 308.930571 
L 1346.747739 333.613898 
L 1468.898995 373.086777 
L 1595.574372 413.951325 
L 1672.484422 438.518278 
L 1735.822111 458.514607 
L 1790.111558 475.43433 
L 1839.876884 490.730213 
L 1889.642211 505.790347 
L 1934.883417 519.251335 
L 1980.124623 532.469736 
L 2020.841709 544.140092 
L 2061.558794 555.578957 
L 2102.275879 566.769754 
L 2106.8 567.997143 
L 2106.8 567.997143 
" clip-path="url(#p8563e7f25e)" style="fill: none; stroke: #e0863a; stroke-width: 2.3; stroke-linecap: square"/>
   </g>
   <g id="line2d_199">
    <path d="M 1206.5 208.051429 
L 1269.837688 227.864562 
L 1328.651256 246.045622 
L 1387.464824 263.995903 
L 1441.754271 280.342044 
L 1496.043719 296.456462 
L 1545.809045 311.010067 
L 1595.574372 325.341838 
L 1645.339698 339.438805 
L 1695.105025 353.287996 
L 1740.346231 365.652242 
L 1785.587437 377.79125 
L 1830.828643 389.695273 
L 1876.069849 401.354567 
L 1916.786935 411.630633 
L 1957.50402 421.693469 
L 1998.221106 431.535971 
L 2038.938191 441.151036 
L 2079.655276 450.531557 
L 2106.8 456.651429 
L 2106.8 456.651429 
" clip-path="url(#p8563e7f25e)" style="fill: none; stroke: #3a8a3e; stroke-width: 2.3; stroke-linecap: square"/>
   </g>
   <g id="line2d_200">
    <path d="M 1206.5 466.04 
L 2106.8 466.04 
" clip-path="url(#p8563e7f25e)" style="fill: none; stroke-dasharray: 8.954,3.872; stroke-dashoffset: 9.62; stroke: #000000; stroke-width: 2.42"/>
   </g>
   <g id="line2d_201">
    <path d="M 1206.5 699.8 
L 2106.8 699.8 
" clip-path="url(#p8563e7f25e)" style="fill: none; stroke-dasharray: 2.42,3.993; stroke-dashoffset: 3.3; stroke: #000000; stroke-width: 2.42"/>
   </g>
   <g id="patch_9">
    <path d="M 1206.5 732.1 
L 1206.5 22.2 
" style="fill: none; stroke: #000000; stroke-width: 1.36; stroke-linejoin: miter; stroke-linecap: square"/>
   </g>
   <g id="patch_10">
    <path d="M 2106.8 732.1 
L 2106.8 22.2 
" style="fill: none; stroke: #000000; stroke-width: 1.36; stroke-linejoin: miter; stroke-linecap: square"/>
   </g>
   <g id="patch_11">
    <path d="M 1206.5 732.1 
L 2106.8 732.1 
" style="fill: none; stroke: #000000; stroke-width: 1.36; stroke-linejoin: miter; stroke-linecap: square"/>
   </g>
   <g id="patch_12">
    <path d="M 1206.5 22.2 
L 2106.8 22.2 
" style="fill: none; stroke: #000000; stroke-width: 1.36; stroke-linejoin: miter; stroke-linecap: square"/>
   </g>
   <g id="legend_2">
    <g id="patch_13">
     <path d="M 1946.2 152.233 L 2089.89 152.233 Q 2094.72 152.233 2094.72 147.403 L 2094.72 39.105 Q 2094.72 34.275 2089.89 34.275 L 1946.2 34.275 Q 1941.37 34.275 1941.37 39.105 L 1941.37 147.403 Q 1941.37 152.233 1946.2 152.233 z" style="fill: #ffffff; opacity: 0.8; stroke: #cccccc; stroke-width: 1.7; stroke-linejoin: miter"/>
    </g>
    <g id="line2d_202">
     <path d="M 1951.0325 53.832727 
L 1975.1825 53.832727 
L 1999.3325 53.832727 
" style="fill: none; stroke: #2f6898; stroke-width: 2.3; stroke-linecap: square"/>
    </g>
    <g id="text_31">
     <!-- $\mu$=7 -->
     <g transform="translate(2018.6525 62.285227)">
      <text>
       <tspan x="0" y="-0.5" style="font-style: oblique; font-size: 24.15px; font-family: 'DejaVu Sans', sans-serif">μ</tspan>
       <tspan x="15.34906" y="-0.5" style="font-size: 24.15px; font-family: 'DejaVu Sans', sans-serif">=</tspan>
       <tspan x="35.563171" y="-0.5" style="font-size: 24.15px; font-family: 'DejaVu Sans', sans-serif">7</tspan>
      </text>
     </g>
    </g>
    <g id="line2d_203">
     <path d="M 1951.0325 91.140703 
L 1975.1825 91.140703 
L 1999.3325 91.140703 
" style="fill: none; stroke: #e0863a; stroke-width: 2.3; stroke-linecap: square"/>
    </g>
    <g id="text_32">
     <!-- $\mu$=14 -->
     <g transform="translate(2018.6525 99.593203)">
      <text>
       <tspan x="0" y="-0.5" style="font-style: oblique; font-size: 24.15px; font-family: 'DejaVu Sans', sans-serif">μ</tspan>
       <tspan x="15.34906" y="-0.5" style="font-size: 24.15px; font-family: 'DejaVu Sans', sans-serif">=</tspan>
       <tspan x="35.563171" y="-0.5" style="font-size: 24.15px; font-family: 'DejaVu Sans', sans-serif">1</tspan>
       <tspan x="50.912231" y="-0.5" style="font-size: 24.15px; font-family: 'DejaVu Sans', sans-serif">4</tspan>
      </text>
     </g>
    </g>
    <g id="line2d_204">
     <path d="M 1951.0325 128.44868 
L 1975.1825 128.44868 
L 1999.3325 128.44868 
" style="fill: none; stroke: #3a8a3e; stroke-width: 2.3; stroke-linecap: square"/>
    </g>
    <g id="text_33">
     <!-- $\mu$=28 -->
     <g transform="translate(2018.6525 136.90118)">
      <text>
       <tspan x="0" y="-0.1875" style="font-style: oblique; font-size: 24.15px; font-family: 'DejaVu Sans', sans-serif">μ</tspan>
       <tspan x="15.34906" y="-0.1875" style="font-size: 24.15px; font-family: 'DejaVu Sans', sans-serif">=</tspan>
       <tspan x="35.563171" y="-0.1875" style="font-size: 24.15px; font-family: 'DejaVu Sans', sans-serif">2</tspan>
       <tspan x="50.912231" y="-0.1875" style="font-size: 24.15px; font-family: 'DejaVu Sans', sans-serif">8</tspan>
      </text>
     </g>
    </g>
   </g>
  </g>
  <g id="axes_3">
   <g id="patch_14">
    <path d="M 713.9 1599.5 
L 1614.3 1599.5 
L 1614.3 889.1 
L 713.9 889.1 
z
" style="fill: #ffffff"/>
   </g>
   <g id="matplotlib.axis_5">
    <g id="xtick_75">
     <g id="line2d_205">
      <g>
       <use href="#m1bfa19aeaf" x="713.9" y="1599.5" style="stroke: #000000; stroke-width: 1.36"/>
      </g>
     </g>
     <g id="text_34">
      <!-- $\mathdefault{10^{-2}}$ -->
      <g transform="translate(685.52375 1629.750227)">
       <text>
        <tspan x="0" y="-0.34375" style="font-size: 24.15px; font-family: 'DejaVu Sans', sans-serif">1</tspan>
        <tspan x="15.34906" y="-0.34375" style="font-size: 24.15px; font-family: 'DejaVu Sans', sans-serif">0</tspan>
        <tspan x="30.927808" y="-9.53125" style="font-size: 16.905px; font-family: 'DejaVu Sans', sans-serif">−</tspan>
        <tspan x="45.077686" y="-9.53125" style="font-size: 16.905px; font-family: 'DejaVu Sans', sans-serif">2</tspan>
       </text>
      </g>
     </g>
    </g>
    <g id="xtick_76">
     <g id="line2d_206">
      <g>
       <use href="#m1bfa19aeaf" x="939" y="1599.5" style="stroke: #000000; stroke-width: 1.36"/>
      </g>
     </g>
     <g id="text_35">
      <!-- $\mathdefault{10^{-1}}$ -->
      <g transform="translate(910.62375 1629.750227)">
       <text>
        <tspan x="0" y="-0.5625" style="font-size: 24.15px; font-family: 'DejaVu Sans', sans-serif">1</tspan>
        <tspan x="15.34906" y="-0.5625" style="font-size: 24.15px; font-family: 'DejaVu Sans', sans-serif">0</tspan>
        <tspan x="30.927808" y="-9.75" style="font-size: 16.905px; font-family: 'DejaVu Sans', sans-serif">−</tspan>
        <tspan x="45.077686" y="-9.75" style="font-size: 16.905px; font-family: 'DejaVu Sans', sans-serif">1</tspan>
       </text>
      </g>
     </g>
    </g>
    <g id="xtick_77">
     <g id="line2d_207">
      <g>
       <use href="#m1bfa19aeaf" x="1164.1" y="1599.5" style="stroke: #000000; stroke-width: 1.36"/>
      </g>
     </g>
     <g id="text_36">
      <!-- $\mathdefault{10^{0}}$ -->
      <g transform="translate(1142.848 1629.750227)">
       <text>
        <tspan x="0" y="-0.34375" style="font-size: 24.15px; font-family: 'DejaVu Sans', sans-serif">1</tspan>
        <tspan x="15.34906" y="-0.34375" style="font-size: 24.15px; font-family: 'DejaVu Sans', sans-serif">0</tspan>
        <tspan x="30.927808" y="-9.53125" style="font-size: 16.905px; font-family: 'DejaVu Sans', sans-serif">0</tspan>
       </text>
      </g>
     </g>
    </g>
    <g id="xtick_78">
     <g id="line2d_208">
      <g>
       <use href="#m1bfa19aeaf" x="1389.2" y="1599.5" style="stroke: #000000; stroke-width: 1.36"/>
      </g>
     </g>
     <g id="text_37">
      <!-- $\mathdefault{10^{1}}$ -->
      <g transform="translate(1367.948 1629.750227)">
       <text>
        <tspan x="0" y="-0.5625" style="font-size: 24.15px; font-family: 'DejaVu Sans', sans-serif">1</tspan>
        <tspan x="15.34906" y="-0.5625" style="font-size: 24.15px; font-family: 'DejaVu Sans', sans-serif">0</tspan>
        <tspan x="30.927808" y="-9.75" style="font-size: 16.905px; font-family: 'DejaVu Sans', sans-serif">1</tspan>
       </text>
      </g>
     </g>
    </g>
    <g id="xtick_79">
     <g id="line2d_209">
      <g>
       <use href="#m1bfa19aeaf" x="1614.3" y="1599.5" style="stroke: #000000; stroke-width: 1.36"/>
      </g>
     </g>
     <g id="text_38">
      <!-- $\mathdefault{10^{2}}$ -->
      <g transform="translate(1593.048 1629.750227)">
       <text>
        <tspan x="0" y="-0.34375" style="font-size: 24.15px; font-family: 'DejaVu Sans', sans-serif">1</tspan>
        <tspan x="15.34906" y="-0.34375" style="font-size: 24.15px; font-family: 'DejaVu Sans', sans-serif">0</tspan>
        <tspan x="30.927808" y="-9.53125" style="font-size: 16.905px; font-family: 'DejaVu Sans', sans-serif">2</tspan>
       </text>
      </g>
     </g>
    </g>
    <g id="xtick_80">
     <g id="line2d_210">
      <g>
       <use href="#m6f70f189b6" x="781.661852" y="1599.5" style="stroke: #000000; stroke-width: 1.02"/>
      </g>
     </g>
    </g>
    <g id="xtick_81">
     <g id="line2d_211">
      <g>
       <use href="#m6f70f189b6" x="821.299994" y="1599.5" style="stroke: #000000; stroke-width: 1.02"/>
      </g>
     </g>
    </g>
    <g id="xtick_82">
     <g id="line2d_212">
      <g>
       <use href="#m6f70f189b6" x="849.423704" y="1599.5" style="stroke: #000000; stroke-width: 1.02"/>
      </g>
     </g>
    </g>
    <g id="xtick_83">
     <g id="line2d_213">
      <g>
       <use href="#m6f70f189b6" x="871.238148" y="1599.5" style="stroke: #000000; stroke-width: 1.02"/>
      </g>
     </g>
    </g>
    <g id="xtick_84">
     <g id="line2d_214">
      <g>
       <use href="#m6f70f189b6" x="889.061846" y="1599.5" style="stroke: #000000; stroke-width: 1.02"/>
      </g>
     </g>
    </g>
    <g id="xtick_85">
     <g id="line2d_215">
      <g>
       <use href="#m6f70f189b6" x="904.131569" y="1599.5" style="stroke: #000000; stroke-width: 1.02"/>
      </g>
     </g>
    </g>
    <g id="xtick_86">
     <g id="line2d_216">
      <g>
       <use href="#m6f70f189b6" x="917.185556" y="1599.5" style="stroke: #000000; stroke-width: 1.02"/>
      </g>
     </g>
    </g>
    <g id="xtick_87">
     <g id="line2d_217">
      <g>
       <use href="#m6f70f189b6" x="928.699989" y="1599.5" style="stroke: #000000; stroke-width: 1.02"/>
      </g>
     </g>
    </g>
    <g id="xtick_88">
     <g id="line2d_218">
      <g>
       <use href="#m6f70f189b6" x="1006.761852" y="1599.5" style="stroke: #000000; stroke-width: 1.02"/>
      </g>
     </g>
    </g>
    <g id="xtick_89">
     <g id="line2d_219">
      <g>
       <use href="#m6f70f189b6" x="1046.399994" y="1599.5" style="stroke: #000000; stroke-width: 1.02"/>
      </g>
     </g>
    </g>
    <g id="xtick_90">
     <g id="line2d_220">
      <g>
       <use href="#m6f70f189b6" x="1074.523704" y="1599.5" style="stroke: #000000; stroke-width: 1.02"/>
      </g>
     </g>
    </g>
    <g id="xtick_91">
     <g id="line2d_221">
      <g>
       <use href="#m6f70f189b6" x="1096.338148" y="1599.5" style="stroke: #000000; stroke-width: 1.02"/>
      </g>
     </g>
    </g>
    <g id="xtick_92">
     <g id="line2d_222">
      <g>
       <use href="#m6f70f189b6" x="1114.161846" y="1599.5" style="stroke: #000000; stroke-width: 1.02"/>
      </g>
     </g>
    </g>
    <g id="xtick_93">
     <g id="line2d_223">
      <g>
       <use href="#m6f70f189b6" x="1129.231569" y="1599.5" style="stroke: #000000; stroke-width: 1.02"/>
      </g>
     </g>
    </g>
    <g id="xtick_94">
     <g id="line2d_224">
      <g>
       <use href="#m6f70f189b6" x="1142.285556" y="1599.5" style="stroke: #000000; stroke-width: 1.02"/>
      </g>
     </g>
    </g>
    <g id="xtick_95">
     <g id="line2d_225">
      <g>
       <use href="#m6f70f189b6" x="1153.799989" y="1599.5" style="stroke: #000000; stroke-width: 1.02"/>
      </g>
     </g>
    </g>
    <g id="xtick_96">
     <g id="line2d_226">
      <g>
       <use href="#m6f70f189b6" x="1231.861852" y="1599.5" style="stroke: #000000; stroke-width: 1.02"/>
      </g>
     </g>
    </g>
    <g id="xtick_97">
     <g id="line2d_227">
      <g>
       <use href="#m6f70f189b6" x="1271.499994" y="1599.5" style="stroke: #000000; stroke-width: 1.02"/>
      </g>
     </g>
    </g>
    <g id="xtick_98">
     <g id="line2d_228">
      <g>
       <use href="#m6f70f189b6" x="1299.623704" y="1599.5" style="stroke: #000000; stroke-width: 1.02"/>
      </g>
     </g>
    </g>
    <g id="xtick_99">
     <g id="line2d_229">
      <g>
       <use href="#m6f70f189b6" x="1321.438148" y="1599.5" style="stroke: #000000; stroke-width: 1.02"/>
      </g>
     </g>
    </g>
    <g id="xtick_100">
     <g id="line2d_230">
      <g>
       <use href="#m6f70f189b6" x="1339.261846" y="1599.5" style="stroke: #000000; stroke-width: 1.02"/>
      </g>
     </g>
    </g>
    <g id="xtick_101">
     <g id="line2d_231">
      <g>
       <use href="#m6f70f189b6" x="1354.331569" y="1599.5" style="stroke: #000000; stroke-width: 1.02"/>
      </g>
     </g>
    </g>
    <g id="xtick_102">
     <g id="line2d_232">
      <g>
       <use href="#m6f70f189b6" x="1367.385556" y="1599.5" style="stroke: #000000; stroke-width: 1.02"/>
      </g>
     </g>
    </g>
    <g id="xtick_103">
     <g id="line2d_233">
      <g>
       <use href="#m6f70f189b6" x="1378.899989" y="1599.5" style="stroke: #000000; stroke-width: 1.02"/>
      </g>
     </g>
    </g>
    <g id="xtick_104">
     <g id="line2d_234">
      <g>
       <use href="#m6f70f189b6" x="1456.961852" y="1599.5" style="stroke: #000000; stroke-width: 1.02"/>
      </g>
     </g>
    </g>
    <g id="xtick_105">
     <g id="line2d_235">
      <g>
       <use href="#m6f70f189b6" x="1496.599994" y="1599.5" style="stroke: #000000; stroke-width: 1.02"/>
      </g>
     </g>
    </g>
    <g id="xtick_106">
     <g id="line2d_236">
      <g>
       <use href="#m6f70f189b6" x="1524.723704" y="1599.5" style="stroke: #000000; stroke-width: 1.02"/>
      </g>
     </g>
    </g>
    <g id="xtick_107">
     <g id="line2d_237">
      <g>
       <use href="#m6f70f189b6" x="1546.538148" y="1599.5" style="stroke: #000000; stroke-width: 1.02"/>
      </g>
     </g>
    </g>
    <g id="xtick_108">
     <g id="line2d_238">
      <g>
       <use href="#m6f70f189b6" x="1564.361846" y="1599.5" style="stroke: #000000; stroke-width: 1.02"/>
      </g>
     </g>
    </g>
    <g id="xtick_109">
     <g id="line2d_239">
      <g>
       <use href="#m6f70f189b6" x="1579.431569" y="1599.5" style="stroke: #000000; stroke-width: 1.02"/>
      </g>
     </g>
    </g>
    <g id="xtick_110">
     <g id="line2d_240">
      <g>
       <use href="#m6f70f189b6" x="1592.485556" y="1599.5" style="stroke: #000000; stroke-width: 1.02"/>
      </g>
     </g>
    </g>
    <g id="xtick_111">
     <g id="line2d_241">
      <g>
       <use href="#m6f70f189b6" x="1603.999989" y="1599.5" style="stroke: #000000; stroke-width: 1.02"/>
      </g>
     </g>
    </g>
    <g id="text_39">
     <text style="font-size: 29px; font-family: 'DejaVu Sans', sans-serif; text-anchor: middle" x="1164.1" y="1664.708141" transform="rotate(-0 1164.1 1664.708141)">Time (Myr)</text>
    </g>
   </g>
   <g id="matplotlib.axis_6">
    <g id="ytick_115">
     <g id="line2d_242">
      <g>
       <use href="#me360a10468" x="713.9" y="1567.2" style="stroke: #000000; stroke-width: 1.36"/>
      </g>
     </g>
     <g id="text_40">
      <!-- $\mathdefault{10^{-4}}$ -->
      <g transform="translate(645.2475 1576.375113)">
       <text>
        <tspan x="0" y="-0.5625" style="font-size: 24.15px; font-family: 'DejaVu Sans', sans-serif">1</tspan>
        <tspan x="15.34906" y="-0.5625" style="font-size: 24.15px; font-family: 'DejaVu Sans', sans-serif">0</tspan>
        <tspan x="30.927808" y="-9.75" style="font-size: 16.905px; font-family: 'DejaVu Sans', sans-serif">−</tspan>
        <tspan x="45.077686" y="-9.75" style="font-size: 16.905px; font-family: 'DejaVu Sans', sans-serif">4</tspan>
       </text>
      </g>
     </g>
    </g>
    <g id="ytick_116">
     <g id="line2d_243">
      <g>
       <use href="#me360a10468" x="713.9" y="1461.75" style="stroke: #000000; stroke-width: 1.36"/>
      </g>
     </g>
     <g id="text_41">
      <!-- $\mathdefault{10^{-3}}$ -->
      <g transform="translate(645.2475 1470.925113)">
       <text>
        <tspan x="0" y="-0.34375" style="font-size: 24.15px; font-family: 'DejaVu Sans', sans-serif">1</tspan>
        <tspan x="15.34906" y="-0.34375" style="font-size: 24.15px; font-family: 'DejaVu Sans', sans-serif">0</tspan>
        <tspan x="30.927808" y="-9.53125" style="font-size: 16.905px; font-family: 'DejaVu Sans', sans-serif">−</tspan>
        <tspan x="45.077686" y="-9.53125" style="font-size: 16.905px; font-family: 'DejaVu Sans', sans-serif">3</tspan>
       </text>
      </g>
     </g>
    </g>
    <g id="ytick_117">
     <g id="line2d_244">
      <g>
       <use href="#me360a10468" x="713.9" y="1356.3" style="stroke: #000000; stroke-width: 1.36"/>
      </g>
     </g>
     <g id="text_42">
      <!-- $\mathdefault{10^{-2}}$ -->
      <g transform="translate(645.2475 1365.475113)">
       <text>
        <tspan x="0" y="-0.34375" style="font-size: 24.15px; font-family: 'DejaVu Sans', sans-serif">1</tspan>
        <tspan x="15.34906" y="-0.34375" style="font-size: 24.15px; font-family: 'DejaVu Sans', sans-serif">0</tspan>
        <tspan x="30.927808" y="-9.53125" style="font-size: 16.905px; font-family: 'DejaVu Sans', sans-serif">−</tspan>
        <tspan x="45.077686" y="-9.53125" style="font-size: 16.905px; font-family: 'DejaVu Sans', sans-serif">2</tspan>
       </text>
      </g>
     </g>
    </g>
    <g id="ytick_118">
     <g id="line2d_245">
      <g>
       <use href="#me360a10468" x="713.9" y="1250.85" style="stroke: #000000; stroke-width: 1.36"/>
      </g>
     </g>
     <g id="text_43">
      <!-- $\mathdefault{10^{-1}}$ -->
      <g transform="translate(645.2475 1260.025113)">
       <text>
        <tspan x="0" y="-0.5625" style="font-size: 24.15px; font-family: 'DejaVu Sans', sans-serif">1</tspan>
        <tspan x="15.34906" y="-0.5625" style="font-size: 24.15px; font-family: 'DejaVu Sans', sans-serif">0</tspan>
        <tspan x="30.927808" y="-9.75" style="font-size: 16.905px; font-family: 'DejaVu Sans', sans-serif">−</tspan>
        <tspan x="45.077686" y="-9.75" style="font-size: 16.905px; font-family: 'DejaVu Sans', sans-serif">1</tspan>
       </text>
      </g>
     </g>
    </g>
    <g id="ytick_119">
     <g id="line2d_246">
      <g>
       <use href="#me360a10468" x="713.9" y="1145.4" style="stroke: #000000; stroke-width: 1.36"/>
      </g>
     </g>
     <g id="text_44">
      <!-- $\mathdefault{10^{0}}$ -->
      <g transform="translate(659.496 1154.575113)">
       <text>
        <tspan x="0" y="-0.34375" style="font-size: 24.15px; font-family: 'DejaVu Sans', sans-serif">1</tspan>
        <tspan x="15.34906" y="-0.34375" style="font-size: 24.15px; font-family: 'DejaVu Sans', sans-serif">0</tspan>
        <tspan x="30.927808" y="-9.53125" style="font-size: 16.905px; font-family: 'DejaVu Sans', sans-serif">0</tspan>
       </text>
      </g>
     </g>
    </g>
    <g id="ytick_120">
     <g id="line2d_247">
      <g>
       <use href="#me360a10468" x="713.9" y="1039.95" style="stroke: #000000; stroke-width: 1.36"/>
      </g>
     </g>
     <g id="text_45">
      <!-- $\mathdefault{10^{1}}$ -->
      <g transform="translate(659.496 1049.125113)">
       <text>
        <tspan x="0" y="-0.5625" style="font-size: 24.15px; font-family: 'DejaVu Sans', sans-serif">1</tspan>
        <tspan x="15.34906" y="-0.5625" style="font-size: 24.15px; font-family: 'DejaVu Sans', sans-serif">0</tspan>
        <tspan x="30.927808" y="-9.75" style="font-size: 16.905px; font-family: 'DejaVu Sans', sans-serif">1</tspan>
       </text>
      </g>
     </g>
    </g>
    <g id="ytick_121">
     <g id="line2d_248">
      <g>
       <use href="#me360a10468" x="713.9" y="934.5" style="stroke: #000000; stroke-width: 1.36"/>
      </g>
     </g>
     <g id="text_46">
      <!-- $\mathdefault{10^{2}}$ -->
      <g transform="translate(659.496 943.675113)">
       <text>
        <tspan x="0" y="-0.34375" style="font-size: 24.15px; font-family: 'DejaVu Sans', sans-serif">1</tspan>
        <tspan x="15.34906" y="-0.34375" style="font-size: 24.15px; font-family: 'DejaVu Sans', sans-serif">0</tspan>
        <tspan x="30.927808" y="-9.53125" style="font-size: 16.905px; font-family: 'DejaVu Sans', sans-serif">2</tspan>
       </text>
      </g>
     </g>
    </g>
    <g id="ytick_122">
     <g id="line2d_249">
      <g>
       <use href="#md346ec357f" x="713.9" y="1598.943613" style="stroke: #000000; stroke-width: 1.02"/>
      </g>
     </g>
    </g>
    <g id="ytick_123">
     <g id="line2d_250">
      <g>
       <use href="#md346ec357f" x="713.9" y="1590.593951" style="stroke: #000000; stroke-width: 1.02"/>
      </g>
     </g>
    </g>
    <g id="ytick_124">
     <g id="line2d_251">
      <g>
       <use href="#md346ec357f" x="713.9" y="1583.534412" style="stroke: #000000; stroke-width: 1.02"/>
      </g>
     </g>
    </g>
    <g id="ytick_125">
     <g id="line2d_252">
      <g>
       <use href="#md346ec357f" x="713.9" y="1577.419161" style="stroke: #000000; stroke-width: 1.02"/>
      </g>
     </g>
    </g>
    <g id="ytick_126">
     <g id="line2d_253">
      <g>
       <use href="#md346ec357f" x="713.9" y="1572.025127" style="stroke: #000000; stroke-width: 1.02"/>
      </g>
     </g>
    </g>
    <g id="ytick_127">
     <g id="line2d_254">
      <g>
       <use href="#md346ec357f" x="713.9" y="1535.456387" style="stroke: #000000; stroke-width: 1.02"/>
      </g>
     </g>
    </g>
    <g id="ytick_128">
     <g id="line2d_255">
      <g>
       <use href="#md346ec357f" x="713.9" y="1516.887564" style="stroke: #000000; stroke-width: 1.02"/>
      </g>
     </g>
    </g>
    <g id="ytick_129">
     <g id="line2d_256">
      <g>
       <use href="#md346ec357f" x="713.9" y="1503.712774" style="stroke: #000000; stroke-width: 1.02"/>
      </g>
     </g>
    </g>
    <g id="ytick_130">
     <g id="line2d_257">
      <g>
       <use href="#md346ec357f" x="713.9" y="1493.493613" style="stroke: #000000; stroke-width: 1.02"/>
      </g>
     </g>
    </g>
    <g id="ytick_131">
     <g id="line2d_258">
      <g>
       <use href="#md346ec357f" x="713.9" y="1485.143951" style="stroke: #000000; stroke-width: 1.02"/>
      </g>
     </g>
    </g>
    <g id="ytick_132">
     <g id="line2d_259">
      <g>
       <use href="#md346ec357f" x="713.9" y="1478.084412" style="stroke: #000000; stroke-width: 1.02"/>
      </g>
     </g>
    </g>
    <g id="ytick_133">
     <g id="line2d_260">
      <g>
       <use href="#md346ec357f" x="713.9" y="1471.969161" style="stroke: #000000; stroke-width: 1.02"/>
      </g>
     </g>
    </g>
    <g id="ytick_134">
     <g id="line2d_261">
      <g>
       <use href="#md346ec357f" x="713.9" y="1466.575127" style="stroke: #000000; stroke-width: 1.02"/>
      </g>
     </g>
    </g>
    <g id="ytick_135">
     <g id="line2d_262">
      <g>
       <use href="#md346ec357f" x="713.9" y="1430.006387" style="stroke: #000000; stroke-width: 1.02"/>
      </g>
     </g>
    </g>
    <g id="ytick_136">
     <g id="line2d_263">
      <g>
       <use href="#md346ec357f" x="713.9" y="1411.437564" style="stroke: #000000; stroke-width: 1.02"/>
      </g>
     </g>
    </g>
    <g id="ytick_137">
     <g id="line2d_264">
      <g>
       <use href="#md346ec357f" x="713.9" y="1398.262774" style="stroke: #000000; stroke-width: 1.02"/>
      </g>
     </g>
    </g>
    <g id="ytick_138">
     <g id="line2d_265">
      <g>
       <use href="#md346ec357f" x="713.9" y="1388.043613" style="stroke: #000000; stroke-width: 1.02"/>
      </g>
     </g>
    </g>
    <g id="ytick_139">
     <g id="line2d_266">
      <g>
       <use href="#md346ec357f" x="713.9" y="1379.693951" style="stroke: #000000; stroke-width: 1.02"/>
      </g>
     </g>
    </g>
    <g id="ytick_140">
     <g id="line2d_267">
      <g>
       <use href="#md346ec357f" x="713.9" y="1372.634412" style="stroke: #000000; stroke-width: 1.02"/>
      </g>
     </g>
    </g>
    <g id="ytick_141">
     <g id="line2d_268">
      <g>
       <use href="#md346ec357f" x="713.9" y="1366.519161" style="stroke: #000000; stroke-width: 1.02"/>
      </g>
     </g>
    </g>
    <g id="ytick_142">
     <g id="line2d_269">
      <g>
       <use href="#md346ec357f" x="713.9" y="1361.125127" style="stroke: #000000; stroke-width: 1.02"/>
      </g>
     </g>
    </g>
    <g id="ytick_143">
     <g id="line2d_270">
      <g>
       <use href="#md346ec357f" x="713.9" y="1324.556387" style="stroke: #000000; stroke-width: 1.02"/>
      </g>
     </g>
    </g>
    <g id="ytick_144">
     <g id="line2d_271">
      <g>
       <use href="#md346ec357f" x="713.9" y="1305.987564" style="stroke: #000000; stroke-width: 1.02"/>
      </g>
     </g>
    </g>
    <g id="ytick_145">
     <g id="line2d_272">
      <g>
       <use href="#md346ec357f" x="713.9" y="1292.812774" style="stroke: #000000; stroke-width: 1.02"/>
      </g>
     </g>
    </g>
    <g id="ytick_146">
     <g id="line2d_273">
      <g>
       <use href="#md346ec357f" x="713.9" y="1282.593613" style="stroke: #000000; stroke-width: 1.02"/>
      </g>
     </g>
    </g>
    <g id="ytick_147">
     <g id="line2d_274">
      <g>
       <use href="#md346ec357f" x="713.9" y="1274.243951" style="stroke: #000000; stroke-width: 1.02"/>
      </g>
     </g>
    </g>
    <g id="ytick_148">
     <g id="line2d_275">
      <g>
       <use href="#md346ec357f" x="713.9" y="1267.184412" style="stroke: #000000; stroke-width: 1.02"/>
      </g>
     </g>
    </g>
    <g id="ytick_149">
     <g id="line2d_276">
      <g>
       <use href="#md346ec357f" x="713.9" y="1261.069161" style="stroke: #000000; stroke-width: 1.02"/>
      </g>
     </g>
    </g>
    <g id="ytick_150">
     <g id="line2d_277">
      <g>
       <use href="#md346ec357f" x="713.9" y="1255.675127" style="stroke: #000000; stroke-width: 1.02"/>
      </g>
     </g>
    </g>
    <g id="ytick_151">
     <g id="line2d_278">
      <g>
       <use href="#md346ec357f" x="713.9" y="1219.106387" style="stroke: #000000; stroke-width: 1.02"/>
      </g>
     </g>
    </g>
    <g id="ytick_152">
     <g id="line2d_279">
      <g>
       <use href="#md346ec357f" x="713.9" y="1200.537564" style="stroke: #000000; stroke-width: 1.02"/>
      </g>
     </g>
    </g>
    <g id="ytick_153">
     <g id="line2d_280">
      <g>
       <use href="#md346ec357f" x="713.9" y="1187.362774" style="stroke: #000000; stroke-width: 1.02"/>
      </g>
     </g>
    </g>
    <g id="ytick_154">
     <g id="line2d_281">
      <g>
       <use href="#md346ec357f" x="713.9" y="1177.143613" style="stroke: #000000; stroke-width: 1.02"/>
      </g>
     </g>
    </g>
    <g id="ytick_155">
     <g id="line2d_282">
      <g>
       <use href="#md346ec357f" x="713.9" y="1168.793951" style="stroke: #000000; stroke-width: 1.02"/>
      </g>
     </g>
    </g>
    <g id="ytick_156">
     <g id="line2d_283">
      <g>
       <use href="#md346ec357f" x="713.9" y="1161.734412" style="stroke: #000000; stroke-width: 1.02"/>
      </g>
     </g>
    </g>
    <g id="ytick_157">
     <g id="line2d_284">
      <g>
       <use href="#md346ec357f" x="713.9" y="1155.619161" style="stroke: #000000; stroke-width: 1.02"/>
      </g>
     </g>
    </g>
    <g id="ytick_158">
     <g id="line2d_285">
      <g>
       <use href="#md346ec357f" x="713.9" y="1150.225127" style="stroke: #000000; stroke-width: 1.02"/>
      </g>
     </g>
    </g>
    <g id="ytick_159">
     <g id="line2d_286">
      <g>
       <use href="#md346ec357f" x="713.9" y="1113.656387" style="stroke: #000000; stroke-width: 1.02"/>
      </g>
     </g>
    </g>
    <g id="ytick_160">
     <g id="line2d_287">
      <g>
       <use href="#md346ec357f" x="713.9" y="1095.087564" style="stroke: #000000; stroke-width: 1.02"/>
      </g>
     </g>
    </g>
    <g id="ytick_161">
     <g id="line2d_288">
      <g>
       <use href="#md346ec357f" x="713.9" y="1081.912774" style="stroke: #000000; stroke-width: 1.02"/>
      </g>
     </g>
    </g>
    <g id="ytick_162">
     <g id="line2d_289">
      <g>
       <use href="#md346ec357f" x="713.9" y="1071.693613" style="stroke: #000000; stroke-width: 1.02"/>
      </g>
     </g>
    </g>
    <g id="ytick_163">
     <g id="line2d_290">
      <g>
       <use href="#md346ec357f" x="713.9" y="1063.343951" style="stroke: #000000; stroke-width: 1.02"/>
      </g>
     </g>
    </g>
    <g id="ytick_164">
     <g id="line2d_291">
      <g>
       <use href="#md346ec357f" x="713.9" y="1056.284412" style="stroke: #000000; stroke-width: 1.02"/>
      </g>
     </g>
    </g>
    <g id="ytick_165">
     <g id="line2d_292">
      <g>
       <use href="#md346ec357f" x="713.9" y="1050.169161" style="stroke: #000000; stroke-width: 1.02"/>
      </g>
     </g>
    </g>
    <g id="ytick_166">
     <g id="line2d_293">
      <g>
       <use href="#md346ec357f" x="713.9" y="1044.775127" style="stroke: #000000; stroke-width: 1.02"/>
      </g>
     </g>
    </g>
    <g id="ytick_167">
     <g id="line2d_294">
      <g>
       <use href="#md346ec357f" x="713.9" y="1008.206387" style="stroke: #000000; stroke-width: 1.02"/>
      </g>
     </g>
    </g>
    <g id="ytick_168">
     <g id="line2d_295">
      <g>
       <use href="#md346ec357f" x="713.9" y="989.637564" style="stroke: #000000; stroke-width: 1.02"/>
      </g>
     </g>
    </g>
    <g id="ytick_169">
     <g id="line2d_296">
      <g>
       <use href="#md346ec357f" x="713.9" y="976.462774" style="stroke: #000000; stroke-width: 1.02"/>
      </g>
     </g>
    </g>
    <g id="ytick_170">
     <g id="line2d_297">
      <g>
       <use href="#md346ec357f" x="713.9" y="966.243613" style="stroke: #000000; stroke-width: 1.02"/>
      </g>
     </g>
    </g>
    <g id="ytick_171">
     <g id="line2d_298">
      <g>
       <use href="#md346ec357f" x="713.9" y="957.893951" style="stroke: #000000; stroke-width: 1.02"/>
      </g>
     </g>
    </g>
    <g id="ytick_172">
     <g id="line2d_299">
      <g>
       <use href="#md346ec357f" x="713.9" y="950.834412" style="stroke: #000000; stroke-width: 1.02"/>
      </g>
     </g>
    </g>
    <g id="ytick_173">
     <g id="line2d_300">
      <g>
       <use href="#md346ec357f" x="713.9" y="944.719161" style="stroke: #000000; stroke-width: 1.02"/>
      </g>
     </g>
    </g>
    <g id="ytick_174">
     <g id="line2d_301">
      <g>
       <use href="#md346ec357f" x="713.9" y="939.325127" style="stroke: #000000; stroke-width: 1.02"/>
      </g>
     </g>
    </g>
    <g id="ytick_175">
     <g id="line2d_302">
      <g>
       <use href="#md346ec357f" x="713.9" y="902.756387" style="stroke: #000000; stroke-width: 1.02"/>
      </g>
     </g>
    </g>
    <g id="text_47">
     <!-- $\dot{M}_{gas}$ (M$_{\oplus}$/Myr) -->
     <g transform="translate(628.3575 1344.785) rotate(-90)">
      <text>
       <tspan x="22.833374" y="-8.96875" style="font-size: 29px; font-family: 'DejaVu Sans', sans-serif">̇</tspan>
       <tspan x="61.993164" y="-0.4375" style="font-size: 29px; font-family: 'DejaVu Sans', sans-serif"> </tspan>
       <tspan x="71.211426" y="-0.4375" style="font-size: 29px; font-family: 'DejaVu Sans', sans-serif">(</tspan>
       <tspan x="82.525391" y="-0.4375" style="font-size: 29px; font-family: 'DejaVu Sans', sans-serif">M</tspan>
       <tspan x="125.626074" y="-0.4375" style="font-size: 29px; font-family: 'DejaVu Sans', sans-serif">/</tspan>
       <tspan x="135.396582" y="-0.4375" style="font-size: 29px; font-family: 'DejaVu Sans', sans-serif">M</tspan>
       <tspan x="160.417578" y="-0.4375" style="font-size: 29px; font-family: 'DejaVu Sans', sans-serif">y</tspan>
       <tspan x="177.579688" y="-0.4375" style="font-size: 29px; font-family: 'DejaVu Sans', sans-serif">r</tspan>
       <tspan x="189.502539" y="-0.4375" style="font-size: 29px; font-family: 'DejaVu Sans', sans-serif">)</tspan>
       <tspan x="0" y="-0.4375" style="font-style: oblique; font-size: 29px; font-family: 'DejaVu Sans', sans-serif">M</tspan>
       <tspan x="25.298535" y="4.320312" style="font-style: oblique; font-size: 20.3px; font-family: 'DejaVu Sans', sans-serif">g</tspan>
       <tspan x="38.184277" y="4.320312" style="font-style: oblique; font-size: 20.3px; font-family: 'DejaVu Sans', sans-serif">a</tspan>
       <tspan x="50.623975" y="4.320312" style="font-style: oblique; font-size: 20.3px; font-family: 'DejaVu Sans', sans-serif">s</tspan>
       <tspan x="107.823926" y="4.320312" style="font-size: 20.3px; font-family: 'DejaVu Sans', sans-serif">⊕</tspan>
      </text>
     </g>
    </g>
   </g>
   <g id="line2d_303">
    <path d="M 713.9 1253.704286 
L 772.720101 1271.685771 
L 831.540201 1289.427498 
L 894.884925 1308.28733 
L 958.229648 1326.914226 
L 1026.098995 1346.639709 
L 1098.492965 1367.447522 
L 1179.936181 1390.611805 
L 1270.428643 1416.104588 
L 1379.019598 1446.448128 
L 1546.430653 1492.957947 
L 1614.3 1511.804286 
L 1614.3 1511.804286 
" clip-path="url(#p848a2f415c)" style="fill: none; stroke: #2f6898; stroke-width: 2.3; stroke-linecap: square"/>
   </g>
   <g id="line2d_304">
    <path d="M 713.9 1196.128571 
L 768.195477 1211.581718 
L 827.015578 1228.56792 
L 894.884925 1248.402517 
L 994.426633 1277.750652 
L 1130.165327 1317.754817 
L 1198.034673 1337.5296 
L 1256.854774 1354.442299 
L 1306.625628 1368.539364 
L 1356.396482 1382.399284 
L 1401.642714 1394.760679 
L 1442.364322 1405.666703 
L 1483.08593 1416.342934 
L 1519.282915 1425.622772 
L 1555.479899 1434.689236 
L 1591.676884 1443.527354 
L 1614.3 1448.928571 
L 1614.3 1448.928571 
" clip-path="url(#p848a2f415c)" style="fill: none; stroke: #e0863a; stroke-width: 2.3; stroke-linecap: square"/>
   </g>
   <g id="line2d_305">
    <path d="M 713.9 1137.987143 
L 840.589447 1175.097749 
L 926.557286 1200.059543 
L 1003.475879 1222.160556 
L 1071.345226 1241.427173 
L 1134.68995 1259.172005 
L 1193.51005 1275.413231 
L 1247.805528 1290.178776 
L 1302.101005 1304.704661 
L 1351.871859 1317.790945 
L 1401.642714 1330.640817 
L 1446.888945 1342.103269 
L 1492.135176 1353.343905 
L 1537.381407 1364.350137 
L 1582.627638 1375.109376 
L 1614.3 1382.487143 
L 1614.3 1382.487143 
" clip-path="url(#p848a2f415c)" style="fill: none; stroke: #3a8a3e; stroke-width: 2.3; stroke-linecap: square"/>
   </g>
   <g id="line2d_306">
    <path d="M 713.9 1060.831429 
L 795.343216 1084.309704 
L 863.212563 1103.660575 
L 926.557286 1121.499079 
L 985.377387 1137.835294 
L 1039.672864 1152.691407 
L 1093.968342 1167.307025 
L 1143.739196 1180.471834 
L 1193.51005 1193.393878 
L 1238.756281 1204.914156 
L 1284.002513 1216.203103 
L 1329.248744 1227.246103 
L 1369.970352 1236.962436 
L 1410.69196 1246.457053 
L 1451.413568 1255.719299 
L 1492.135176 1264.738515 
L 1528.332161 1272.542958 
L 1564.529146 1280.139474 
L 1600.726131 1287.520578 
L 1614.3 1290.231429 
L 1614.3 1290.231429 
" clip-path="url(#p848a2f415c)" style="fill: none; stroke: #a52530; stroke-width: 2.3; stroke-linecap: square"/>
   </g>
   <g id="line2d_307">
    <path d="M 713.9 1356.3 
L 1614.3 1356.3 
" clip-path="url(#p848a2f415c)" style="fill: none; stroke-dasharray: 8.954,3.872; stroke-dashoffset: 9.62; stroke: #000000; stroke-width: 2.42"/>
   </g>
   <g id="line2d_308">
    <path d="M 713.9 1567.2 
L 1614.3 1567.2 
" clip-path="url(#p848a2f415c)" style="fill: none; stroke-dasharray: 2.42,3.993; stroke-dashoffset: 3.3; stroke: #000000; stroke-width: 2.42"/>
   </g>
   <g id="patch_15">
    <path d="M 713.9 1599.5 
L 713.9 889.1 
" style="fill: none; stroke: #000000; stroke-width: 1.36; stroke-linejoin: miter; stroke-linecap: square"/>
   </g>
   <g id="patch_16">
    <path d="M 1614.3 1599.5 
L 1614.3 889.1 
" style="fill: none; stroke: #000000; stroke-width: 1.36; stroke-linejoin: miter; stroke-linecap: square"/>
   </g>
   <g id="patch_17">
    <path d="M 713.9 1599.5 
L 1614.3 1599.5 
" style="fill: none; stroke: #000000; stroke-width: 1.36; stroke-linejoin: miter; stroke-linecap: square"/>
   </g>
   <g id="patch_18">
    <path d="M 713.9 889.1 
L 1614.3 889.1 
" style="fill: none; stroke: #000000; stroke-width: 1.36; stroke-linejoin: miter; stroke-linecap: square"/>
   </g>
   <g id="legend_3">
    <g id="patch_19">
     <path d="M 1359.03 1051.91 L 1597.39 1051.91 Q 1602.22 1051.91 1602.22 1047.08 L 1602.22 906.905 Q 1602.22 902.075 1597.39 902.075 L 1359.03 902.075 Q 1354.2 902.075 1354.2 906.905 L 1354.2 1047.08 Q 1354.2 1051.91 1359.03 1051.91 z" style="fill: #ffffff; opacity: 0.8; stroke: #cccccc; stroke-width: 1.7; stroke-linejoin: miter"/>
    </g>
    <g id="line2d_309">
     <path d="M 1363.8645 921.632727 
L 1388.0145 921.632727 
L 1412.1645 921.632727 
" style="fill: none; stroke: #2f6898; stroke-width: 2.3; stroke-linecap: square"/>
    </g>
    <g id="text_48">
     <!-- M$_{core}$=0.5 M$_{\oplus}$ -->
     <g transform="translate(1431.4845 930.085227)">
      <text>
       <tspan x="0" y="-0.1875" style="font-size: 24.15px; font-family: 'DejaVu Sans', sans-serif">M</tspan>
       <tspan x="58.65047" y="-0.1875" style="font-size: 24.15px; font-family: 'DejaVu Sans', sans-serif">=</tspan>
       <tspan x="78.864581" y="-0.1875" style="font-size: 24.15px; font-family: 'DejaVu Sans', sans-serif">0</tspan>
       <tspan x="94.213641" y="-0.1875" style="font-size: 24.15px; font-family: 'DejaVu Sans', sans-serif">.</tspan>
       <tspan x="101.882281" y="-0.1875" style="font-size: 24.15px; font-family: 'DejaVu Sans', sans-serif">5</tspan>
       <tspan x="117.231342" y="-0.1875" style="font-size: 24.15px; font-family: 'DejaVu Sans', sans-serif"> </tspan>
       <tspan x="124.899982" y="-0.1875" style="font-size: 24.15px; font-family: 'DejaVu Sans', sans-serif">M</tspan>
       <tspan x="21.044568" y="3.75" style="font-style: oblique; font-size: 16.905px; font-family: 'DejaVu Sans', sans-serif">c</tspan>
       <tspan x="30.329395" y="3.75" style="font-style: oblique; font-size: 16.905px; font-family: 'DejaVu Sans', sans-serif">o</tspan>
       <tspan x="40.661444" y="3.75" style="font-style: oblique; font-size: 16.905px; font-family: 'DejaVu Sans', sans-serif">r</tspan>
       <tspan x="47.604449" y="3.75" style="font-style: oblique; font-size: 16.905px; font-family: 'DejaVu Sans', sans-serif">e</tspan>
       <tspan x="145.94455" y="3.75" style="font-size: 16.905px; font-family: 'DejaVu Sans', sans-serif">⊕</tspan>
      </text>
     </g>
    </g>
    <g id="line2d_310">
     <path d="M 1363.8645 957.346048 
L 1388.0145 957.346048 
L 1412.1645 957.346048 
" style="fill: none; stroke: #e0863a; stroke-width: 2.3; stroke-linecap: square"/>
    </g>
    <g id="text_49">
     <!-- M$_{core}$=1 M$_{\oplus}$ -->
     <g transform="translate(1431.4845 965.798548)">
      <text>
       <tspan x="0" y="-0.5" style="font-size: 24.15px; font-family: 'DejaVu Sans', sans-serif">M</tspan>
       <tspan x="58.65047" y="-0.5" style="font-size: 24.15px; font-family: 'DejaVu Sans', sans-serif">=</tspan>
       <tspan x="78.864581" y="-0.5" style="font-size: 24.15px; font-family: 'DejaVu Sans', sans-serif">1</tspan>
       <tspan x="94.213641" y="-0.5" style="font-size: 24.15px; font-family: 'DejaVu Sans', sans-serif"> </tspan>
       <tspan x="101.882281" y="-0.5" style="font-size: 24.15px; font-family: 'DejaVu Sans', sans-serif">M</tspan>
       <tspan x="21.044568" y="3.4375" style="font-style: oblique; font-size: 16.905px; font-family: 'DejaVu Sans', sans-serif">c</tspan>
       <tspan x="30.329395" y="3.4375" style="font-style: oblique; font-size: 16.905px; font-family: 'DejaVu Sans', sans-serif">o</tspan>
       <tspan x="40.661444" y="3.4375" style="font-style: oblique; font-size: 16.905px; font-family: 'DejaVu Sans', sans-serif">r</tspan>
       <tspan x="47.604449" y="3.4375" style="font-style: oblique; font-size: 16.905px; font-family: 'DejaVu Sans', sans-serif">e</tspan>
       <tspan x="122.926849" y="3.4375" style="font-size: 16.905px; font-family: 'DejaVu Sans', sans-serif">⊕</tspan>
      </text>
     </g>
    </g>
    <g id="line2d_311">
     <path d="M 1363.8645 993.05937 
L 1388.0145 993.05937 
L 1412.1645 993.05937 
" style="fill: none; stroke: #3a8a3e; stroke-width: 2.3; stroke-linecap: square"/>
    </g>
    <g id="text_50">
     <!-- M$_{core}$=2 M$_{\oplus}$ -->
     <g transform="translate(1431.4845 1001.51187)">
      <text>
       <tspan x="0" y="-0.1875" style="font-size: 24.15px; font-family: 'DejaVu Sans', sans-serif">M</tspan>
       <tspan x="58.65047" y="-0.1875" style="font-size: 24.15px; font-family: 'DejaVu Sans', sans-serif">=</tspan>
       <tspan x="78.864581" y="-0.1875" style="font-size: 24.15px; font-family: 'DejaVu Sans', sans-serif">2</tspan>
       <tspan x="94.213641" y="-0.1875" style="font-size: 24.15px; font-family: 'DejaVu Sans', sans-serif"> </tspan>
       <tspan x="101.882281" y="-0.1875" style="font-size: 24.15px; font-family: 'DejaVu Sans', sans-serif">M</tspan>
       <tspan x="21.044568" y="3.75" style="font-style: oblique; font-size: 16.905px; font-family: 'DejaVu Sans', sans-serif">c</tspan>
       <tspan x="30.329395" y="3.75" style="font-style: oblique; font-size: 16.905px; font-family: 'DejaVu Sans', sans-serif">o</tspan>
       <tspan x="40.661444" y="3.75" style="font-style: oblique; font-size: 16.905px; font-family: 'DejaVu Sans', sans-serif">r</tspan>
       <tspan x="47.604449" y="3.75" style="font-style: oblique; font-size: 16.905px; font-family: 'DejaVu Sans', sans-serif">e</tspan>
       <tspan x="122.926849" y="3.75" style="font-size: 16.905px; font-family: 'DejaVu Sans', sans-serif">⊕</tspan>
      </text>
     </g>
    </g>
    <g id="line2d_312">
     <path d="M 1363.8645 1028.772692 
L 1388.0145 1028.772692 
L 1412.1645 1028.772692 
" style="fill: none; stroke: #a52530; stroke-width: 2.3; stroke-linecap: square"/>
    </g>
    <g id="text_51">
     <!-- M$_{core}$=5 M$_{\oplus}$ -->
     <g transform="translate(1431.4845 1037.225192)">
      <text>
       <tspan x="0" y="-0.5" style="font-size: 24.15px; font-family: 'DejaVu Sans', sans-serif">M</tspan>
       <tspan x="58.65047" y="-0.5" style="font-size: 24.15px; font-family: 'DejaVu Sans', sans-serif">=</tspan>
       <tspan x="78.864581" y="-0.5" style="font-size: 24.15px; font-family: 'DejaVu Sans', sans-serif">5</tspan>
       <tspan x="94.213641" y="-0.5" style="font-size: 24.15px; font-family: 'DejaVu Sans', sans-serif"> </tspan>
       <tspan x="101.882281" y="-0.5" style="font-size: 24.15px; font-family: 'DejaVu Sans', sans-serif">M</tspan>
       <tspan x="21.044568" y="3.4375" style="font-style: oblique; font-size: 16.905px; font-family: 'DejaVu Sans', sans-serif">c</tspan>
       <tspan x="30.329395" y="3.4375" style="font-style: oblique; font-size: 16.905px; font-family: 'DejaVu Sans', sans-serif">o</tspan>
       <tspan x="40.661444" y="3.4375" style="font-style: oblique; font-size: 16.905px; font-family: 'DejaVu Sans', sans-serif">r</tspan>
       <tspan x="47.604449" y="3.4375" style="font-style: oblique; font-size: 16.905px; font-family: 'DejaVu Sans', sans-serif">e</tspan>
       <tspan x="122.926849" y="3.4375" style="font-size: 16.905px; font-family: 'DejaVu Sans', sans-serif">⊕</tspan>
      </text>
     </g>
    </g>
   </g>
  </g>
  <g id="text_52">
   <!-- M$_{core}$=1 M$_{\oplus}$ ; $\mu$=14 -->
   <g transform="translate(356.2 66.7)">
    <text>
     <tspan x="0" y="-0.859375" style="font-size: 29px; font-family: 'DejaVu Sans', sans-serif">M</tspan>
     <tspan x="70.507666" y="-0.859375" style="font-size: 29px; font-family: 'DejaVu Sans', sans-serif">=</tspan>
     <tspan x="94.806494" y="-0.859375" style="font-size: 29px; font-family: 'DejaVu Sans', sans-serif">1</tspan>
     <tspan x="113.257178" y="-0.859375" style="font-size: 29px; font-family: 'DejaVu Sans', sans-serif"> </tspan>
     <tspan x="122.475439" y="-0.859375" style="font-size: 29px; font-family: 'DejaVu Sans', sans-serif">M</tspan>
     <tspan x="165.576123" y="-0.859375" style="font-size: 29px; font-family: 'DejaVu Sans', sans-serif"> </tspan>
     <tspan x="174.794385" y="-0.859375" style="font-size: 29px; font-family: 'DejaVu Sans', sans-serif">;</tspan>
     <tspan x="184.564893" y="-0.859375" style="font-size: 29px; font-family: 'DejaVu Sans', sans-serif"> </tspan>
     <tspan x="212.233838" y="-0.859375" style="font-size: 29px; font-family: 'DejaVu Sans', sans-serif">=</tspan>
     <tspan x="236.532666" y="-0.859375" style="font-size: 29px; font-family: 'DejaVu Sans', sans-serif">1</tspan>
     <tspan x="254.98335" y="-0.859375" style="font-size: 29px; font-family: 'DejaVu Sans', sans-serif">4</tspan>
     <tspan x="25.298535" y="3.898438" style="font-style: oblique; font-size: 20.3px; font-family: 'DejaVu Sans', sans-serif">c</tspan>
     <tspan x="36.45957" y="3.898438" style="font-style: oblique; font-size: 20.3px; font-family: 'DejaVu Sans', sans-serif">o</tspan>
     <tspan x="48.879443" y="3.898438" style="font-style: oblique; font-size: 20.3px; font-family: 'DejaVu Sans', sans-serif">r</tspan>
     <tspan x="57.225439" y="3.898438" style="font-style: oblique; font-size: 20.3px; font-family: 'DejaVu Sans', sans-serif">e</tspan>
     <tspan x="147.773975" y="3.898438" style="font-size: 20.3px; font-family: 'DejaVu Sans', sans-serif">⊕</tspan>
     <tspan x="193.783154" y="-0.859375" style="font-style: oblique; font-size: 29px; font-family: 'DejaVu Sans', sans-serif">μ</tspan>
    </text>
   </g>
  </g>
  <g id="text_53">
   <!-- M$_{core}$=1 M$_{\oplus}$ ; a$_{pl}$=1 AU -->
   <g transform="translate(1444.4 67.5)">
    <text>
     <tspan x="0" y="-0.859375" style="font-size: 29px; font-family: 'DejaVu Sans', sans-serif">M</tspan>
     <tspan x="70.507666" y="-0.859375" style="font-size: 29px; font-family: 'DejaVu Sans', sans-serif">=</tspan>
     <tspan x="94.806494" y="-0.859375" style="font-size: 29px; font-family: 'DejaVu Sans', sans-serif">1</tspan>
     <tspan x="113.257178" y="-0.859375" style="font-size: 29px; font-family: 'DejaVu Sans', sans-serif"> </tspan>
     <tspan x="122.475439" y="-0.859375" style="font-size: 29px; font-family: 'DejaVu Sans', sans-serif">M</tspan>
     <tspan x="165.576123" y="-0.859375" style="font-size: 29px; font-family: 'DejaVu Sans', sans-serif"> </tspan>
     <tspan x="174.794385" y="-0.859375" style="font-size: 29px; font-family: 'DejaVu Sans', sans-serif">;</tspan>
     <tspan x="184.564893" y="-0.859375" style="font-size: 29px; font-family: 'DejaVu Sans', sans-serif"> </tspan>
     <tspan x="193.783154" y="-0.859375" style="font-size: 29px; font-family: 'DejaVu Sans', sans-serif">a</tspan>
     <tspan x="231.150391" y="-0.859375" style="font-size: 29px; font-family: 'DejaVu Sans', sans-serif">=</tspan>
     <tspan x="255.449219" y="-0.859375" style="font-size: 29px; font-family: 'DejaVu Sans', sans-serif">1</tspan>
     <tspan x="273.899902" y="-0.859375" style="font-size: 29px; font-family: 'DejaVu Sans', sans-serif"> </tspan>
     <tspan x="283.118164" y="-0.859375" style="font-size: 29px; font-family: 'DejaVu Sans', sans-serif">A</tspan>
     <tspan x="302.956543" y="-0.859375" style="font-size: 29px; font-family: 'DejaVu Sans', sans-serif">U</tspan>
     <tspan x="25.298535" y="3.898438" style="font-style: oblique; font-size: 20.3px; font-family: 'DejaVu Sans', sans-serif">c</tspan>
     <tspan x="36.45957" y="3.898438" style="font-style: oblique; font-size: 20.3px; font-family: 'DejaVu Sans', sans-serif">o</tspan>
     <tspan x="48.879443" y="3.898438" style="font-style: oblique; font-size: 20.3px; font-family: 'DejaVu Sans', sans-serif">r</tspan>
     <tspan x="57.225439" y="3.898438" style="font-style: oblique; font-size: 20.3px; font-family: 'DejaVu Sans', sans-serif">e</tspan>
     <tspan x="211.831689" y="3.898438" style="font-style: oblique; font-size: 20.3px; font-family: 'DejaVu Sans', sans-serif">p</tspan>
     <tspan x="224.717432" y="3.898438" style="font-style: oblique; font-size: 20.3px; font-family: 'DejaVu Sans', sans-serif">l</tspan>
     <tspan x="147.773975" y="3.898438" style="font-size: 20.3px; font-family: 'DejaVu Sans', sans-serif">⊕</tspan>
    </text>
   </g>
  </g>
  <g id="text_54">
   <!-- a$_{pl}$=1 AU ; $\mu$=14 -->
   <g transform="translate(975.1 933.9)">
    <text>
     <tspan x="0" y="-0.859375" style="font-size: 29px; font-family: 'DejaVu Sans', sans-serif">a</tspan>
     <tspan x="37.367236" y="-0.859375" style="font-size: 29px; font-family: 'DejaVu Sans', sans-serif">=</tspan>
     <tspan x="61.666064" y="-0.859375" style="font-size: 29px; font-family: 'DejaVu Sans', sans-serif">1</tspan>
     <tspan x="80.116748" y="-0.859375" style="font-size: 29px; font-family: 'DejaVu Sans', sans-serif"> </tspan>
     <tspan x="89.33501" y="-0.859375" style="font-size: 29px; font-family: 'DejaVu Sans', sans-serif">A</tspan>
     <tspan x="109.173389" y="-0.859375" style="font-size: 29px; font-family: 'DejaVu Sans', sans-serif">U</tspan>
     <tspan x="130.399463" y="-0.859375" style="font-size: 29px; font-family: 'DejaVu Sans', sans-serif"> </tspan>
     <tspan x="139.617725" y="-0.859375" style="font-size: 29px; font-family: 'DejaVu Sans', sans-serif">;</tspan>
     <tspan x="149.388232" y="-0.859375" style="font-size: 29px; font-family: 'DejaVu Sans', sans-serif"> </tspan>
     <tspan x="177.057178" y="-0.859375" style="font-size: 29px; font-family: 'DejaVu Sans', sans-serif">=</tspan>
     <tspan x="201.356006" y="-0.859375" style="font-size: 29px; font-family: 'DejaVu Sans', sans-serif">1</tspan>
     <tspan x="219.806689" y="-0.859375" style="font-size: 29px; font-family: 'DejaVu Sans', sans-serif">4</tspan>
     <tspan x="18.048535" y="3.898438" style="font-style: oblique; font-size: 20.3px; font-family: 'DejaVu Sans', sans-serif">p</tspan>
     <tspan x="30.934277" y="3.898438" style="font-style: oblique; font-size: 20.3px; font-family: 'DejaVu Sans', sans-serif">l</tspan>
     <tspan x="158.606494" y="-0.859375" style="font-style: oblique; font-size: 29px; font-family: 'DejaVu Sans', sans-serif">μ</tspan>
    </text>
   </g>
  </g>
  <g id="text_55">
   <!-- $\dot{M}$=1e-2 M$_{\oplus}$/Myr -->
   <g transform="translate(786.8 473.7)">
    <text>
     <tspan x="18.8443" y="-7.06562" style="font-size: 24.15px; font-family: 'DejaVu Sans', sans-serif">̇</tspan>
     <tspan x="20.81488" y="-0.684375" style="font-size: 24.15px; font-family: 'DejaVu Sans', sans-serif">=</tspan>
     <tspan x="41.028992" y="-0.684375" style="font-size: 24.15px; font-family: 'DejaVu Sans', sans-serif">1</tspan>
     <tspan x="56.378052" y="-0.684375" style="font-size: 24.15px; font-family: 'DejaVu Sans', sans-serif">e</tspan>
     <tspan x="71.220581" y="-0.684375" style="font-size: 24.15px; font-family: 'DejaVu Sans', sans-serif">-</tspan>
     <tspan x="79.925842" y="-0.684375" style="font-size: 24.15px; font-family: 'DejaVu Sans', sans-serif">2</tspan>
     <tspan x="95.274902" y="-0.684375" style="font-size: 24.15px; font-family: 'DejaVu Sans', sans-serif"> </tspan>
     <tspan x="102.943542" y="-0.684375" style="font-size: 24.15px; font-family: 'DejaVu Sans', sans-serif">M</tspan>
     <tspan x="138.794238" y="-0.684375" style="font-size: 24.15px; font-family: 'DejaVu Sans', sans-serif">/</tspan>
     <tspan x="146.92229" y="-0.684375" style="font-size: 24.15px; font-family: 'DejaVu Sans', sans-serif">M</tspan>
     <tspan x="167.73717" y="-0.684375" style="font-size: 24.15px; font-family: 'DejaVu Sans', sans-serif">y</tspan>
     <tspan x="182.01427" y="-0.684375" style="font-size: 24.15px; font-family: 'DejaVu Sans', sans-serif">r</tspan>
     <tspan x="0" y="-0.684375" style="font-style: oblique; font-size: 24.15px; font-family: 'DejaVu Sans', sans-serif">M</tspan>
     <tspan x="123.98811" y="3.253125" style="font-size: 16.905px; font-family: 'DejaVu Sans', sans-serif">⊕</tspan>
    </text>
   </g>
  </g>
  <g id="text_56">
   <!-- $\dot{M}$=1e-4 M$_{\oplus}$/Myr -->
   <g transform="translate(786.5 691.4)">
    <text>
     <tspan x="18.8443" y="-7.06562" style="font-size: 24.15px; font-family: 'DejaVu Sans', sans-serif">̇</tspan>
     <tspan x="20.81488" y="-0.684375" style="font-size: 24.15px; font-family: 'DejaVu Sans', sans-serif">=</tspan>
     <tspan x="41.028992" y="-0.684375" style="font-size: 24.15px; font-family: 'DejaVu Sans', sans-serif">1</tspan>
     <tspan x="56.378052" y="-0.684375" style="font-size: 24.15px; font-family: 'DejaVu Sans', sans-serif">e</tspan>
     <tspan x="71.220581" y="-0.684375" style="font-size: 24.15px; font-family: 'DejaVu Sans', sans-serif">-</tspan>
     <tspan x="79.925842" y="-0.684375" style="font-size: 24.15px; font-family: 'DejaVu Sans', sans-serif">4</tspan>
     <tspan x="95.274902" y="-0.684375" style="font-size: 24.15px; font-family: 'DejaVu Sans', sans-serif"> </tspan>
     <tspan x="102.943542" y="-0.684375" style="font-size: 24.15px; font-family: 'DejaVu Sans', sans-serif">M</tspan>
     <tspan x="138.794238" y="-0.684375" style="font-size: 24.15px; font-family: 'DejaVu Sans', sans-serif">/</tspan>
     <tspan x="146.92229" y="-0.684375" style="font-size: 24.15px; font-family: 'DejaVu Sans', sans-serif">M</tspan>
     <tspan x="167.73717" y="-0.684375" style="font-size: 24.15px; font-family: 'DejaVu Sans', sans-serif">y</tspan>
     <tspan x="182.01427" y="-0.684375" style="font-size: 24.15px; font-family: 'DejaVu Sans', sans-serif">r</tspan>
     <tspan x="0" y="-0.684375" style="font-style: oblique; font-size: 24.15px; font-family: 'DejaVu Sans', sans-serif">M</tspan>
     <tspan x="123.98811" y="3.253125" style="font-size: 16.905px; font-family: 'DejaVu Sans', sans-serif">⊕</tspan>
    </text>
   </g>
  </g>
  <g id="text_57">
   <!-- $\dot{M}$=1e-2 M$_{\oplus}$/Myr -->
   <g transform="translate(1817 461)">
    <text>
     <tspan x="18.8443" y="-7.06562" style="font-size: 24.15px; font-family: 'DejaVu Sans', sans-serif">̇</tspan>
     <tspan x="20.81488" y="-0.684375" style="font-size: 24.15px; font-family: 'DejaVu Sans', sans-serif">=</tspan>
     <tspan x="41.028992" y="-0.684375" style="font-size: 24.15px; font-family: 'DejaVu Sans', sans-serif">1</tspan>
     <tspan x="56.378052" y="-0.684375" style="font-size: 24.15px; font-family: 'DejaVu Sans', sans-serif">e</tspan>
     <tspan x="71.220581" y="-0.684375" style="font-size: 24.15px; font-family: 'DejaVu Sans', sans-serif">-</tspan>
     <tspan x="79.925842" y="-0.684375" style="font-size: 24.15px; font-family: 'DejaVu Sans', sans-serif">2</tspan>
     <tspan x="95.274902" y="-0.684375" style="font-size: 24.15px; font-family: 'DejaVu Sans', sans-serif"> </tspan>
     <tspan x="102.943542" y="-0.684375" style="font-size: 24.15px; font-family: 'DejaVu Sans', sans-serif">M</tspan>
     <tspan x="138.794238" y="-0.684375" style="font-size: 24.15px; font-family: 'DejaVu Sans', sans-serif">/</tspan>
     <tspan x="146.92229" y="-0.684375" style="font-size: 24.15px; font-family: 'DejaVu Sans', sans-serif">M</tspan>
     <tspan x="167.73717" y="-0.684375" style="font-size: 24.15px; font-family: 'DejaVu Sans', sans-serif">y</tspan>
     <tspan x="182.01427" y="-0.684375" style="font-size: 24.15px; font-family: 'DejaVu Sans', sans-serif">r</tspan>
     <tspan x="0" y="-0.684375" style="font-style: oblique; font-size: 24.15px; font-family: 'DejaVu Sans', sans-serif">M</tspan>
     <tspan x="123.98811" y="3.253125" style="font-size: 16.905px; font-family: 'DejaVu Sans', sans-serif">⊕</tspan>
    </text>
   </g>
  </g>
  <g id="text_58">
   <!-- $\dot{M}$=1e-4 M$_{\oplus}$/Myr -->
   <g transform="translate(1816.8 692.4)">
    <text>
     <tspan x="18.8443" y="-7.06562" style="font-size: 24.15px; font-family: 'DejaVu Sans', sans-serif">̇</tspan>
     <tspan x="20.81488" y="-0.684375" style="font-size: 24.15px; font-family: 'DejaVu Sans', sans-serif">=</tspan>
     <tspan x="41.028992" y="-0.684375" style="font-size: 24.15px; font-family: 'DejaVu Sans', sans-serif">1</tspan>
     <tspan x="56.378052" y="-0.684375" style="font-size: 24.15px; font-family: 'DejaVu Sans', sans-serif">e</tspan>
     <tspan x="71.220581" y="-0.684375" style="font-size: 24.15px; font-family: 'DejaVu Sans', sans-serif">-</tspan>
     <tspan x="79.925842" y="-0.684375" style="font-size: 24.15px; font-family: 'DejaVu Sans', sans-serif">4</tspan>
     <tspan x="95.274902" y="-0.684375" style="font-size: 24.15px; font-family: 'DejaVu Sans', sans-serif"> </tspan>
     <tspan x="102.943542" y="-0.684375" style="font-size: 24.15px; font-family: 'DejaVu Sans', sans-serif">M</tspan>
     <tspan x="138.794238" y="-0.684375" style="font-size: 24.15px; font-family: 'DejaVu Sans', sans-serif">/</tspan>
     <tspan x="146.92229" y="-0.684375" style="font-size: 24.15px; font-family: 'DejaVu Sans', sans-serif">M</tspan>
     <tspan x="167.73717" y="-0.684375" style="font-size: 24.15px; font-family: 'DejaVu Sans', sans-serif">y</tspan>
     <tspan x="182.01427" y="-0.684375" style="font-size: 24.15px; font-family: 'DejaVu Sans', sans-serif">r</tspan>
     <tspan x="0" y="-0.684375" style="font-style: oblique; font-size: 24.15px; font-family: 'DejaVu Sans', sans-serif">M</tspan>
     <tspan x="123.98811" y="3.253125" style="font-size: 16.905px; font-family: 'DejaVu Sans', sans-serif">⊕</tspan>
    </text>
   </g>
  </g>
  <g id="text_59">
   <!-- $\dot{M}$=1e-2 M$_{\oplus}$/Myr -->
   <g transform="translate(743.1 1341.6)">
    <text>
     <tspan x="18.8443" y="-7.06562" style="font-size: 24.15px; font-family: 'DejaVu Sans', sans-serif">̇</tspan>
     <tspan x="20.81488" y="-0.684375" style="font-size: 24.15px; font-family: 'DejaVu Sans', sans-serif">=</tspan>
     <tspan x="41.028992" y="-0.684375" style="font-size: 24.15px; font-family: 'DejaVu Sans', sans-serif">1</tspan>
     <tspan x="56.378052" y="-0.684375" style="font-size: 24.15px; font-family: 'DejaVu Sans', sans-serif">e</tspan>
     <tspan x="71.220581" y="-0.684375" style="font-size: 24.15px; font-family: 'DejaVu Sans', sans-serif">-</tspan>
     <tspan x="79.925842" y="-0.684375" style="font-size: 24.15px; font-family: 'DejaVu Sans', sans-serif">2</tspan>
     <tspan x="95.274902" y="-0.684375" style="font-size: 24.15px; font-family: 'DejaVu Sans', sans-serif"> </tspan>
     <tspan x="102.943542" y="-0.684375" style="font-size: 24.15px; font-family: 'DejaVu Sans', sans-serif">M</tspan>
     <tspan x="138.794238" y="-0.684375" style="font-size: 24.15px; font-family: 'DejaVu Sans', sans-serif">/</tspan>
     <tspan x="146.92229" y="-0.684375" style="font-size: 24.15px; font-family: 'DejaVu Sans', sans-serif">M</tspan>
     <tspan x="167.73717" y="-0.684375" style="font-size: 24.15px; font-family: 'DejaVu Sans', sans-serif">y</tspan>
     <tspan x="182.01427" y="-0.684375" style="font-size: 24.15px; font-family: 'DejaVu Sans', sans-serif">r</tspan>
     <tspan x="0" y="-0.684375" style="font-style: oblique; font-size: 24.15px; font-family: 'DejaVu Sans', sans-serif">M</tspan>
     <tspan x="123.98811" y="3.253125" style="font-size: 16.905px; font-family: 'DejaVu Sans', sans-serif">⊕</tspan>
    </text>
   </g>
  </g>
  <g id="text_60">
   <!-- $\dot{M}$=1e-4 M$_{\oplus}$/Myr -->
   <g transform="translate(743.1 1558.9)">
    <text>
     <tspan x="18.8443" y="-7.06562" style="font-size: 24.15px; font-family: 'DejaVu Sans', sans-serif">̇</tspan>
     <tspan x="20.81488" y="-0.684375" style="font-size: 24.15px; font-family: 'DejaVu Sans', sans-serif">=</tspan>
     <tspan x="41.028992" y="-0.684375" style="font-size: 24.15px; font-family: 'DejaVu Sans', sans-serif">1</tspan>
     <tspan x="56.378052" y="-0.684375" style="font-size: 24.15px; font-family: 'DejaVu Sans', sans-serif">e</tspan>
     <tspan x="71.220581" y="-0.684375" style="font-size: 24.15px; font-family: 'DejaVu Sans', sans-serif">-</tspan>
     <tspan x="79.925842" y="-0.684375" style="font-size: 24.15px; font-family: 'DejaVu Sans', sans-serif">4</tspan>
     <tspan x="95.274902" y="-0.684375" style="font-size: 24.15px; font-family: 'DejaVu Sans', sans-serif"> </tspan>
     <tspan x="102.943542" y="-0.684375" style="font-size: 24.15px; font-family: 'DejaVu Sans', sans-serif">M</tspan>
     <tspan x="138.794238" y="-0.684375" style="font-size: 24.15px; font-family: 'DejaVu Sans', sans-serif">/</tspan>
     <tspan x="146.92229" y="-0.684375" style="font-size: 24.15px; font-family: 'DejaVu Sans', sans-serif">M</tspan>
     <tspan x="167.73717" y="-0.684375" style="font-size: 24.15px; font-family: 'DejaVu Sans', sans-serif">y</tspan>
     <tspan x="182.01427" y="-0.684375" style="font-size: 24.15px; font-family: 'DejaVu Sans', sans-serif">r</tspan>
     <tspan x="0" y="-0.684375" style="font-style: oblique; font-size: 24.15px; font-family: 'DejaVu Sans', sans-serif">M</tspan>
     <tspan x="123.98811" y="3.253125" style="font-size: 16.905px; font-family: 'DejaVu Sans', sans-serif">⊕</tspan>
    </text>
   </g>
  </g>
 </g>
 <defs>
  <clipPath id="pea03c62418">
   <rect x="117.9" y="21.85" width="900.8" height="710.25"/>
  </clipPath>
  <clipPath id="p8563e7f25e">
   <rect x="1206.5" y="22.2" width="900.3" height="709.9"/>
  </clipPath>
  <clipPath id="p848a2f415c">
   <rect x="713.9" y="889.1" width="900.4" height="710.4"/>
  </clipPath>
 </defs>

 <g id="panel-labels" style="font-family: 'DejaVu Sans', sans-serif, 'Liberation Sans', sans-serif; font-weight: bold; font-size: 32.5px; fill: #000">
  <text transform="translate(0.6 24.8) scale(0.83 1)">a</text>
  <text transform="translate(1088.6 24.8) scale(0.83 1)">b</text>
  <text transform="translate(604.0 883.6) scale(0.83 1)">c</text>
 </g>
</svg>
</body></html>
